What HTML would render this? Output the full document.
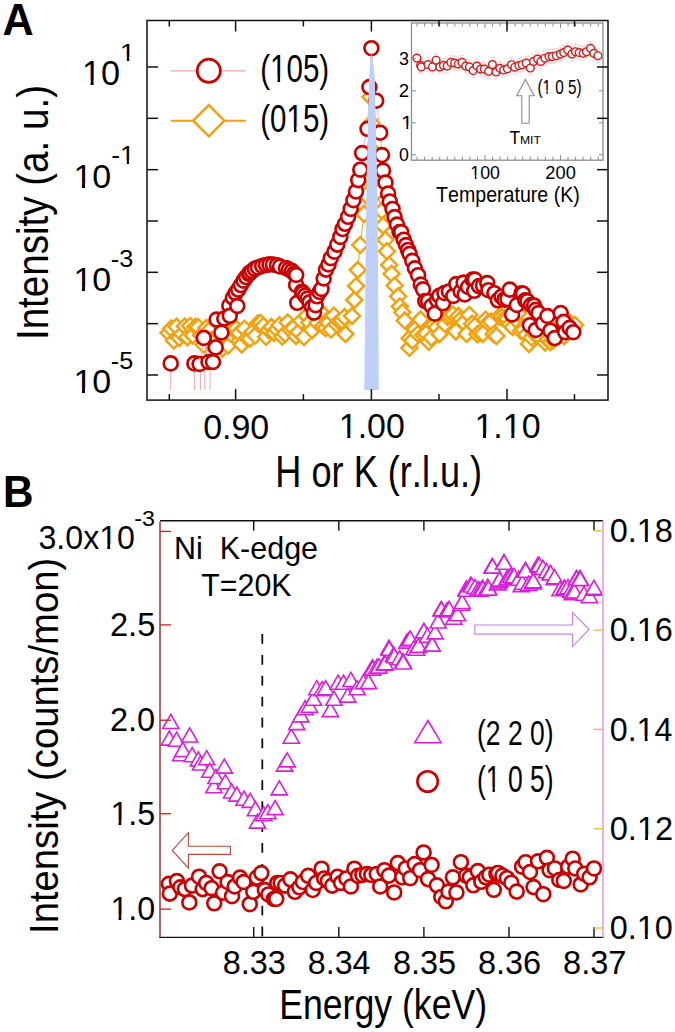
<!DOCTYPE html><html><head><meta charset="utf-8"><title>Figure</title><style>html,body{margin:0;padding:0;background:#fff;overflow:hidden}svg{display:block}</style></head><body><svg width="675" height="1032" viewBox="0 0 675 1032" font-family="Liberation Sans, sans-serif" style="font-kerning:none">
<rect width="675" height="1032" fill="#fff"/>
<line x1="170.70" y1="370.00" x2="170.70" y2="390.00" stroke="#f4a8a8" stroke-width="1"/><line x1="194.40" y1="370.00" x2="194.40" y2="390.00" stroke="#f4a8a8" stroke-width="1"/><line x1="200.40" y1="370.00" x2="200.40" y2="390.00" stroke="#f4a8a8" stroke-width="1"/><line x1="204.80" y1="370.00" x2="204.80" y2="390.00" stroke="#f4a8a8" stroke-width="1"/><line x1="210.00" y1="370.00" x2="210.00" y2="390.00" stroke="#f4a8a8" stroke-width="1"/>
<polyline points="168.5,332.8 171.2,328.6 173.9,340.6 176.6,326.7 179.3,337.9 182.1,333.8 184.8,326.4 187.5,337.2 190.2,325.9 192.9,335.4 195.6,326.7 198.3,327.2 201.0,335.2 203.7,344.8 206.4,328.0 209.2,330.4 211.9,340.1 214.6,347.7 217.3,338.9 220.0,334.5 222.7,348.4 225.4,326.1 228.1,345.6 230.8,333.8 233.5,329.8 236.3,328.7 239.0,332.8 241.7,344.5 244.4,328.7 247.1,337.9 249.8,338.7 252.5,331.8 255.2,335.6 257.9,323.4 260.6,322.9 263.4,325.9 266.1,336.8 268.8,330.2 271.5,327.0 274.2,333.0 276.9,329.3 279.6,325.2 282.3,336.6 285.0,333.8 287.7,322.4 290.4,329.8 293.2,328.1 295.9,336.0 298.6,332.0 301.3,320.9 304.0,337.1 306.7,315.9 309.4,322.6 312.1,330.2 314.8,315.2 317.5,322.8 320.3,311.5 323.0,326.1 325.7,328.0 328.4,322.9 331.1,329.6 333.8,315.7 336.5,324.3 339.2,321.4 341.9,320.6 344.6,317.1 345.4,334.0 352.0,316.0 354.3,300.0 356.1,286.0 357.8,270.0 360.2,245.0 364.0,214.0 366.0,195.0 370.5,97.0 371.5,123.0 371.5,178.0 372.0,150.0 377.0,192.0 381.8,211.0 383.0,225.5 385.4,239.8 386.9,251.3 389.2,264.9 391.6,273.8 394.6,285.6 398.1,296.3 399.9,306.4 402.3,312.3 404.7,320.6 409.4,347.8 409.7,338.2 412.4,340.7 415.1,329.4 417.8,333.9 420.5,319.5 423.2,334.8 425.9,333.5 428.7,341.8 431.4,337.7 434.1,324.8 436.8,327.3 439.5,334.0 442.2,313.5 444.9,324.1 447.6,317.0 450.3,315.8 453.0,314.4 455.8,331.4 458.5,316.1 461.2,318.9 463.9,322.4 466.6,333.9 469.3,314.9 472.0,323.8 474.7,326.2 477.4,334.2 480.1,332.7 482.9,333.7 485.6,319.7 488.3,323.0 491.0,321.6 493.7,334.2 496.4,336.0 499.1,316.6 501.8,317.2 504.5,318.6 507.2,318.6 510.0,324.6 512.7,327.1 515.4,319.3 518.1,313.1 520.8,331.1 523.5,329.9 526.2,334.6 528.9,343.9 531.6,337.6 534.3,333.4 537.1,335.8 539.8,337.2 542.5,322.3 545.2,342.6 547.9,339.7 550.6,342.0 553.3,340.1 556.0,330.4 558.7,330.6 561.4,323.5 564.2,336.2 566.9,322.5 569.6,322.6 572.3,326.0 575.0,324.9" fill="none" stroke="#f2a20f" stroke-width="1"/>
<g><path d="M160.5 332.8L168.5 324.8L176.5 332.8L168.5 340.8Z" fill="#fff" stroke="#f2a20f" stroke-width="2.5"/><path d="M163.2 328.6L171.2 320.6L179.2 328.6L171.2 336.6Z" fill="#fff" stroke="#f2a20f" stroke-width="2.5"/><path d="M165.9 340.6L173.9 332.6L181.9 340.6L173.9 348.6Z" fill="#fff" stroke="#f2a20f" stroke-width="2.5"/><path d="M168.6 326.7L176.6 318.7L184.6 326.7L176.6 334.7Z" fill="#fff" stroke="#f2a20f" stroke-width="2.5"/><path d="M171.3 337.9L179.3 329.9L187.3 337.9L179.3 345.9Z" fill="#fff" stroke="#f2a20f" stroke-width="2.5"/><path d="M174.1 333.8L182.1 325.8L190.1 333.8L182.1 341.8Z" fill="#fff" stroke="#f2a20f" stroke-width="2.5"/><path d="M176.8 326.4L184.8 318.4L192.8 326.4L184.8 334.4Z" fill="#fff" stroke="#f2a20f" stroke-width="2.5"/><path d="M179.5 337.2L187.5 329.2L195.5 337.2L187.5 345.2Z" fill="#fff" stroke="#f2a20f" stroke-width="2.5"/><path d="M182.2 325.9L190.2 317.9L198.2 325.9L190.2 333.9Z" fill="#fff" stroke="#f2a20f" stroke-width="2.5"/><path d="M184.9 335.4L192.9 327.4L200.9 335.4L192.9 343.4Z" fill="#fff" stroke="#f2a20f" stroke-width="2.5"/><path d="M187.6 326.7L195.6 318.7L203.6 326.7L195.6 334.7Z" fill="#fff" stroke="#f2a20f" stroke-width="2.5"/><path d="M190.3 327.2L198.3 319.2L206.3 327.2L198.3 335.2Z" fill="#fff" stroke="#f2a20f" stroke-width="2.5"/><path d="M193.0 335.2L201.0 327.2L209.0 335.2L201.0 343.2Z" fill="#fff" stroke="#f2a20f" stroke-width="2.5"/><path d="M195.7 344.8L203.7 336.8L211.7 344.8L203.7 352.8Z" fill="#fff" stroke="#f2a20f" stroke-width="2.5"/><path d="M198.4 328.0L206.4 320.0L214.4 328.0L206.4 336.0Z" fill="#fff" stroke="#f2a20f" stroke-width="2.5"/><path d="M201.2 330.4L209.2 322.4L217.2 330.4L209.2 338.4Z" fill="#fff" stroke="#f2a20f" stroke-width="2.5"/><path d="M203.9 340.1L211.9 332.1L219.9 340.1L211.9 348.1Z" fill="#fff" stroke="#f2a20f" stroke-width="2.5"/><path d="M206.6 347.7L214.6 339.7L222.6 347.7L214.6 355.7Z" fill="#fff" stroke="#f2a20f" stroke-width="2.5"/><path d="M209.3 338.9L217.3 330.9L225.3 338.9L217.3 346.9Z" fill="#fff" stroke="#f2a20f" stroke-width="2.5"/><path d="M212.0 334.5L220.0 326.5L228.0 334.5L220.0 342.5Z" fill="#fff" stroke="#f2a20f" stroke-width="2.5"/><path d="M214.7 348.4L222.7 340.4L230.7 348.4L222.7 356.4Z" fill="#fff" stroke="#f2a20f" stroke-width="2.5"/><path d="M217.4 326.1L225.4 318.1L233.4 326.1L225.4 334.1Z" fill="#fff" stroke="#f2a20f" stroke-width="2.5"/><path d="M220.1 345.6L228.1 337.6L236.1 345.6L228.1 353.6Z" fill="#fff" stroke="#f2a20f" stroke-width="2.5"/><path d="M222.8 333.8L230.8 325.8L238.8 333.8L230.8 341.8Z" fill="#fff" stroke="#f2a20f" stroke-width="2.5"/><path d="M225.5 329.8L233.5 321.8L241.5 329.8L233.5 337.8Z" fill="#fff" stroke="#f2a20f" stroke-width="2.5"/><path d="M228.3 328.7L236.3 320.7L244.3 328.7L236.3 336.7Z" fill="#fff" stroke="#f2a20f" stroke-width="2.5"/><path d="M231.0 332.8L239.0 324.8L247.0 332.8L239.0 340.8Z" fill="#fff" stroke="#f2a20f" stroke-width="2.5"/><path d="M233.7 344.5L241.7 336.5L249.7 344.5L241.7 352.5Z" fill="#fff" stroke="#f2a20f" stroke-width="2.5"/><path d="M236.4 328.7L244.4 320.7L252.4 328.7L244.4 336.7Z" fill="#fff" stroke="#f2a20f" stroke-width="2.5"/><path d="M239.1 337.9L247.1 329.9L255.1 337.9L247.1 345.9Z" fill="#fff" stroke="#f2a20f" stroke-width="2.5"/><path d="M241.8 338.7L249.8 330.7L257.8 338.7L249.8 346.7Z" fill="#fff" stroke="#f2a20f" stroke-width="2.5"/><path d="M244.5 331.8L252.5 323.8L260.5 331.8L252.5 339.8Z" fill="#fff" stroke="#f2a20f" stroke-width="2.5"/><path d="M247.2 335.6L255.2 327.6L263.2 335.6L255.2 343.6Z" fill="#fff" stroke="#f2a20f" stroke-width="2.5"/><path d="M249.9 323.4L257.9 315.4L265.9 323.4L257.9 331.4Z" fill="#fff" stroke="#f2a20f" stroke-width="2.5"/><path d="M252.6 322.9L260.6 314.9L268.6 322.9L260.6 330.9Z" fill="#fff" stroke="#f2a20f" stroke-width="2.5"/><path d="M255.4 325.9L263.4 317.9L271.4 325.9L263.4 333.9Z" fill="#fff" stroke="#f2a20f" stroke-width="2.5"/><path d="M258.1 336.8L266.1 328.8L274.1 336.8L266.1 344.8Z" fill="#fff" stroke="#f2a20f" stroke-width="2.5"/><path d="M260.8 330.2L268.8 322.2L276.8 330.2L268.8 338.2Z" fill="#fff" stroke="#f2a20f" stroke-width="2.5"/><path d="M263.5 327.0L271.5 319.0L279.5 327.0L271.5 335.0Z" fill="#fff" stroke="#f2a20f" stroke-width="2.5"/><path d="M266.2 333.0L274.2 325.0L282.2 333.0L274.2 341.0Z" fill="#fff" stroke="#f2a20f" stroke-width="2.5"/><path d="M268.9 329.3L276.9 321.3L284.9 329.3L276.9 337.3Z" fill="#fff" stroke="#f2a20f" stroke-width="2.5"/><path d="M271.6 325.2L279.6 317.2L287.6 325.2L279.6 333.2Z" fill="#fff" stroke="#f2a20f" stroke-width="2.5"/><path d="M274.3 336.6L282.3 328.6L290.3 336.6L282.3 344.6Z" fill="#fff" stroke="#f2a20f" stroke-width="2.5"/><path d="M277.0 333.8L285.0 325.8L293.0 333.8L285.0 341.8Z" fill="#fff" stroke="#f2a20f" stroke-width="2.5"/><path d="M279.7 322.4L287.7 314.4L295.7 322.4L287.7 330.4Z" fill="#fff" stroke="#f2a20f" stroke-width="2.5"/><path d="M282.4 329.8L290.4 321.8L298.4 329.8L290.4 337.8Z" fill="#fff" stroke="#f2a20f" stroke-width="2.5"/><path d="M285.2 328.1L293.2 320.1L301.2 328.1L293.2 336.1Z" fill="#fff" stroke="#f2a20f" stroke-width="2.5"/><path d="M287.9 336.0L295.9 328.0L303.9 336.0L295.9 344.0Z" fill="#fff" stroke="#f2a20f" stroke-width="2.5"/><path d="M290.6 332.0L298.6 324.0L306.6 332.0L298.6 340.0Z" fill="#fff" stroke="#f2a20f" stroke-width="2.5"/><path d="M293.3 320.9L301.3 312.9L309.3 320.9L301.3 328.9Z" fill="#fff" stroke="#f2a20f" stroke-width="2.5"/><path d="M296.0 337.1L304.0 329.1L312.0 337.1L304.0 345.1Z" fill="#fff" stroke="#f2a20f" stroke-width="2.5"/><path d="M298.7 315.9L306.7 307.9L314.7 315.9L306.7 323.9Z" fill="#fff" stroke="#f2a20f" stroke-width="2.5"/><path d="M301.4 322.6L309.4 314.6L317.4 322.6L309.4 330.6Z" fill="#fff" stroke="#f2a20f" stroke-width="2.5"/><path d="M304.1 330.2L312.1 322.2L320.1 330.2L312.1 338.2Z" fill="#fff" stroke="#f2a20f" stroke-width="2.5"/><path d="M306.8 315.2L314.8 307.2L322.8 315.2L314.8 323.2Z" fill="#fff" stroke="#f2a20f" stroke-width="2.5"/><path d="M309.5 322.8L317.5 314.8L325.5 322.8L317.5 330.8Z" fill="#fff" stroke="#f2a20f" stroke-width="2.5"/><path d="M312.3 311.5L320.3 303.5L328.3 311.5L320.3 319.5Z" fill="#fff" stroke="#f2a20f" stroke-width="2.5"/><path d="M315.0 326.1L323.0 318.1L331.0 326.1L323.0 334.1Z" fill="#fff" stroke="#f2a20f" stroke-width="2.5"/><path d="M317.7 328.0L325.7 320.0L333.7 328.0L325.7 336.0Z" fill="#fff" stroke="#f2a20f" stroke-width="2.5"/><path d="M320.4 322.9L328.4 314.9L336.4 322.9L328.4 330.9Z" fill="#fff" stroke="#f2a20f" stroke-width="2.5"/><path d="M323.1 329.6L331.1 321.6L339.1 329.6L331.1 337.6Z" fill="#fff" stroke="#f2a20f" stroke-width="2.5"/><path d="M325.8 315.7L333.8 307.7L341.8 315.7L333.8 323.7Z" fill="#fff" stroke="#f2a20f" stroke-width="2.5"/><path d="M328.5 324.3L336.5 316.3L344.5 324.3L336.5 332.3Z" fill="#fff" stroke="#f2a20f" stroke-width="2.5"/><path d="M331.2 321.4L339.2 313.4L347.2 321.4L339.2 329.4Z" fill="#fff" stroke="#f2a20f" stroke-width="2.5"/><path d="M333.9 320.6L341.9 312.6L349.9 320.6L341.9 328.6Z" fill="#fff" stroke="#f2a20f" stroke-width="2.5"/><path d="M336.6 317.1L344.6 309.1L352.6 317.1L344.6 325.1Z" fill="#fff" stroke="#f2a20f" stroke-width="2.5"/><path d="M337.4 334.0L345.4 326.0L353.4 334.0L345.4 342.0Z" fill="#fff" stroke="#f2a20f" stroke-width="2.5"/><path d="M344.0 316.0L352.0 308.0L360.0 316.0L352.0 324.0Z" fill="#fff" stroke="#f2a20f" stroke-width="2.5"/><path d="M346.3 300.0L354.3 292.0L362.3 300.0L354.3 308.0Z" fill="#fff" stroke="#f2a20f" stroke-width="2.5"/><path d="M348.1 286.0L356.1 278.0L364.1 286.0L356.1 294.0Z" fill="#fff" stroke="#f2a20f" stroke-width="2.5"/><path d="M349.8 270.0L357.8 262.0L365.8 270.0L357.8 278.0Z" fill="#fff" stroke="#f2a20f" stroke-width="2.5"/><path d="M352.2 245.0L360.2 237.0L368.2 245.0L360.2 253.0Z" fill="#fff" stroke="#f2a20f" stroke-width="2.5"/><path d="M356.0 214.0L364.0 206.0L372.0 214.0L364.0 222.0Z" fill="#fff" stroke="#f2a20f" stroke-width="2.5"/><path d="M358.0 195.0L366.0 187.0L374.0 195.0L366.0 203.0Z" fill="#fff" stroke="#f2a20f" stroke-width="2.5"/><path d="M362.5 97.0L370.5 89.0L378.5 97.0L370.5 105.0Z" fill="#fff" stroke="#f2a20f" stroke-width="2.5"/><path d="M363.5 123.0L371.5 115.0L379.5 123.0L371.5 131.0Z" fill="#fff" stroke="#f2a20f" stroke-width="2.5"/><path d="M363.5 178.0L371.5 170.0L379.5 178.0L371.5 186.0Z" fill="#fff" stroke="#f2a20f" stroke-width="2.5"/><path d="M364.0 150.0L372.0 142.0L380.0 150.0L372.0 158.0Z" fill="#fff" stroke="#f2a20f" stroke-width="2.5"/><path d="M369.0 192.0L377.0 184.0L385.0 192.0L377.0 200.0Z" fill="#fff" stroke="#f2a20f" stroke-width="2.5"/><path d="M373.8 211.0L381.8 203.0L389.8 211.0L381.8 219.0Z" fill="#fff" stroke="#f2a20f" stroke-width="2.5"/><path d="M375.0 225.5L383.0 217.5L391.0 225.5L383.0 233.5Z" fill="#fff" stroke="#f2a20f" stroke-width="2.5"/><path d="M377.4 239.8L385.4 231.8L393.4 239.8L385.4 247.8Z" fill="#fff" stroke="#f2a20f" stroke-width="2.5"/><path d="M378.9 251.3L386.9 243.3L394.9 251.3L386.9 259.3Z" fill="#fff" stroke="#f2a20f" stroke-width="2.5"/><path d="M381.2 264.9L389.2 256.9L397.2 264.9L389.2 272.9Z" fill="#fff" stroke="#f2a20f" stroke-width="2.5"/><path d="M383.6 273.8L391.6 265.8L399.6 273.8L391.6 281.8Z" fill="#fff" stroke="#f2a20f" stroke-width="2.5"/><path d="M386.6 285.6L394.6 277.6L402.6 285.6L394.6 293.6Z" fill="#fff" stroke="#f2a20f" stroke-width="2.5"/><path d="M390.1 296.3L398.1 288.3L406.1 296.3L398.1 304.3Z" fill="#fff" stroke="#f2a20f" stroke-width="2.5"/><path d="M391.9 306.4L399.9 298.4L407.9 306.4L399.9 314.4Z" fill="#fff" stroke="#f2a20f" stroke-width="2.5"/><path d="M394.3 312.3L402.3 304.3L410.3 312.3L402.3 320.3Z" fill="#fff" stroke="#f2a20f" stroke-width="2.5"/><path d="M396.7 320.6L404.7 312.6L412.7 320.6L404.7 328.6Z" fill="#fff" stroke="#f2a20f" stroke-width="2.5"/><path d="M401.4 347.8L409.4 339.8L417.4 347.8L409.4 355.8Z" fill="#fff" stroke="#f2a20f" stroke-width="2.5"/><path d="M401.7 338.2L409.7 330.2L417.7 338.2L409.7 346.2Z" fill="#fff" stroke="#f2a20f" stroke-width="2.5"/><path d="M404.4 340.7L412.4 332.7L420.4 340.7L412.4 348.7Z" fill="#fff" stroke="#f2a20f" stroke-width="2.5"/><path d="M407.1 329.4L415.1 321.4L423.1 329.4L415.1 337.4Z" fill="#fff" stroke="#f2a20f" stroke-width="2.5"/><path d="M409.8 333.9L417.8 325.9L425.8 333.9L417.8 341.9Z" fill="#fff" stroke="#f2a20f" stroke-width="2.5"/><path d="M412.5 319.5L420.5 311.5L428.5 319.5L420.5 327.5Z" fill="#fff" stroke="#f2a20f" stroke-width="2.5"/><path d="M415.2 334.8L423.2 326.8L431.2 334.8L423.2 342.8Z" fill="#fff" stroke="#f2a20f" stroke-width="2.5"/><path d="M417.9 333.5L425.9 325.5L433.9 333.5L425.9 341.5Z" fill="#fff" stroke="#f2a20f" stroke-width="2.5"/><path d="M420.7 341.8L428.7 333.8L436.7 341.8L428.7 349.8Z" fill="#fff" stroke="#f2a20f" stroke-width="2.5"/><path d="M423.4 337.7L431.4 329.7L439.4 337.7L431.4 345.7Z" fill="#fff" stroke="#f2a20f" stroke-width="2.5"/><path d="M426.1 324.8L434.1 316.8L442.1 324.8L434.1 332.8Z" fill="#fff" stroke="#f2a20f" stroke-width="2.5"/><path d="M428.8 327.3L436.8 319.3L444.8 327.3L436.8 335.3Z" fill="#fff" stroke="#f2a20f" stroke-width="2.5"/><path d="M431.5 334.0L439.5 326.0L447.5 334.0L439.5 342.0Z" fill="#fff" stroke="#f2a20f" stroke-width="2.5"/><path d="M434.2 313.5L442.2 305.5L450.2 313.5L442.2 321.5Z" fill="#fff" stroke="#f2a20f" stroke-width="2.5"/><path d="M436.9 324.1L444.9 316.1L452.9 324.1L444.9 332.1Z" fill="#fff" stroke="#f2a20f" stroke-width="2.5"/><path d="M439.6 317.0L447.6 309.0L455.6 317.0L447.6 325.0Z" fill="#fff" stroke="#f2a20f" stroke-width="2.5"/><path d="M442.3 315.8L450.3 307.8L458.3 315.8L450.3 323.8Z" fill="#fff" stroke="#f2a20f" stroke-width="2.5"/><path d="M445.0 314.4L453.0 306.4L461.0 314.4L453.0 322.4Z" fill="#fff" stroke="#f2a20f" stroke-width="2.5"/><path d="M447.8 331.4L455.8 323.4L463.8 331.4L455.8 339.4Z" fill="#fff" stroke="#f2a20f" stroke-width="2.5"/><path d="M450.5 316.1L458.5 308.1L466.5 316.1L458.5 324.1Z" fill="#fff" stroke="#f2a20f" stroke-width="2.5"/><path d="M453.2 318.9L461.2 310.9L469.2 318.9L461.2 326.9Z" fill="#fff" stroke="#f2a20f" stroke-width="2.5"/><path d="M455.9 322.4L463.9 314.4L471.9 322.4L463.9 330.4Z" fill="#fff" stroke="#f2a20f" stroke-width="2.5"/><path d="M458.6 333.9L466.6 325.9L474.6 333.9L466.6 341.9Z" fill="#fff" stroke="#f2a20f" stroke-width="2.5"/><path d="M461.3 314.9L469.3 306.9L477.3 314.9L469.3 322.9Z" fill="#fff" stroke="#f2a20f" stroke-width="2.5"/><path d="M464.0 323.8L472.0 315.8L480.0 323.8L472.0 331.8Z" fill="#fff" stroke="#f2a20f" stroke-width="2.5"/><path d="M466.7 326.2L474.7 318.2L482.7 326.2L474.7 334.2Z" fill="#fff" stroke="#f2a20f" stroke-width="2.5"/><path d="M469.4 334.2L477.4 326.2L485.4 334.2L477.4 342.2Z" fill="#fff" stroke="#f2a20f" stroke-width="2.5"/><path d="M472.1 332.7L480.1 324.7L488.1 332.7L480.1 340.7Z" fill="#fff" stroke="#f2a20f" stroke-width="2.5"/><path d="M474.9 333.7L482.9 325.7L490.9 333.7L482.9 341.7Z" fill="#fff" stroke="#f2a20f" stroke-width="2.5"/><path d="M477.6 319.7L485.6 311.7L493.6 319.7L485.6 327.7Z" fill="#fff" stroke="#f2a20f" stroke-width="2.5"/><path d="M480.3 323.0L488.3 315.0L496.3 323.0L488.3 331.0Z" fill="#fff" stroke="#f2a20f" stroke-width="2.5"/><path d="M483.0 321.6L491.0 313.6L499.0 321.6L491.0 329.6Z" fill="#fff" stroke="#f2a20f" stroke-width="2.5"/><path d="M485.7 334.2L493.7 326.2L501.7 334.2L493.7 342.2Z" fill="#fff" stroke="#f2a20f" stroke-width="2.5"/><path d="M488.4 336.0L496.4 328.0L504.4 336.0L496.4 344.0Z" fill="#fff" stroke="#f2a20f" stroke-width="2.5"/><path d="M491.1 316.6L499.1 308.6L507.1 316.6L499.1 324.6Z" fill="#fff" stroke="#f2a20f" stroke-width="2.5"/><path d="M493.8 317.2L501.8 309.2L509.8 317.2L501.8 325.2Z" fill="#fff" stroke="#f2a20f" stroke-width="2.5"/><path d="M496.5 318.6L504.5 310.6L512.5 318.6L504.5 326.6Z" fill="#fff" stroke="#f2a20f" stroke-width="2.5"/><path d="M499.2 318.6L507.2 310.6L515.2 318.6L507.2 326.6Z" fill="#fff" stroke="#f2a20f" stroke-width="2.5"/><path d="M502.0 324.6L510.0 316.6L518.0 324.6L510.0 332.6Z" fill="#fff" stroke="#f2a20f" stroke-width="2.5"/><path d="M504.7 327.1L512.7 319.1L520.7 327.1L512.7 335.1Z" fill="#fff" stroke="#f2a20f" stroke-width="2.5"/><path d="M507.4 319.3L515.4 311.3L523.4 319.3L515.4 327.3Z" fill="#fff" stroke="#f2a20f" stroke-width="2.5"/><path d="M510.1 313.1L518.1 305.1L526.1 313.1L518.1 321.1Z" fill="#fff" stroke="#f2a20f" stroke-width="2.5"/><path d="M512.8 331.1L520.8 323.1L528.8 331.1L520.8 339.1Z" fill="#fff" stroke="#f2a20f" stroke-width="2.5"/><path d="M515.5 329.9L523.5 321.9L531.5 329.9L523.5 337.9Z" fill="#fff" stroke="#f2a20f" stroke-width="2.5"/><path d="M518.2 334.6L526.2 326.6L534.2 334.6L526.2 342.6Z" fill="#fff" stroke="#f2a20f" stroke-width="2.5"/><path d="M520.9 343.9L528.9 335.9L536.9 343.9L528.9 351.9Z" fill="#fff" stroke="#f2a20f" stroke-width="2.5"/><path d="M523.6 337.6L531.6 329.6L539.6 337.6L531.6 345.6Z" fill="#fff" stroke="#f2a20f" stroke-width="2.5"/><path d="M526.3 333.4L534.3 325.4L542.3 333.4L534.3 341.4Z" fill="#fff" stroke="#f2a20f" stroke-width="2.5"/><path d="M529.1 335.8L537.1 327.8L545.1 335.8L537.1 343.8Z" fill="#fff" stroke="#f2a20f" stroke-width="2.5"/><path d="M531.8 337.2L539.8 329.2L547.8 337.2L539.8 345.2Z" fill="#fff" stroke="#f2a20f" stroke-width="2.5"/><path d="M534.5 322.3L542.5 314.3L550.5 322.3L542.5 330.3Z" fill="#fff" stroke="#f2a20f" stroke-width="2.5"/><path d="M537.2 342.6L545.2 334.6L553.2 342.6L545.2 350.6Z" fill="#fff" stroke="#f2a20f" stroke-width="2.5"/><path d="M539.9 339.7L547.9 331.7L555.9 339.7L547.9 347.7Z" fill="#fff" stroke="#f2a20f" stroke-width="2.5"/><path d="M542.6 342.0L550.6 334.0L558.6 342.0L550.6 350.0Z" fill="#fff" stroke="#f2a20f" stroke-width="2.5"/><path d="M545.3 340.1L553.3 332.1L561.3 340.1L553.3 348.1Z" fill="#fff" stroke="#f2a20f" stroke-width="2.5"/><path d="M548.0 330.4L556.0 322.4L564.0 330.4L556.0 338.4Z" fill="#fff" stroke="#f2a20f" stroke-width="2.5"/><path d="M550.7 330.6L558.7 322.6L566.7 330.6L558.7 338.6Z" fill="#fff" stroke="#f2a20f" stroke-width="2.5"/><path d="M553.4 323.5L561.4 315.5L569.4 323.5L561.4 331.5Z" fill="#fff" stroke="#f2a20f" stroke-width="2.5"/><path d="M556.2 336.2L564.2 328.2L572.2 336.2L564.2 344.2Z" fill="#fff" stroke="#f2a20f" stroke-width="2.5"/><path d="M558.9 322.5L566.9 314.5L574.9 322.5L566.9 330.5Z" fill="#fff" stroke="#f2a20f" stroke-width="2.5"/><path d="M561.6 322.6L569.6 314.6L577.6 322.6L569.6 330.6Z" fill="#fff" stroke="#f2a20f" stroke-width="2.5"/><path d="M564.3 326.0L572.3 318.0L580.3 326.0L572.3 334.0Z" fill="#fff" stroke="#f2a20f" stroke-width="2.5"/><path d="M567.0 324.9L575.0 316.9L583.0 324.9L575.0 332.9Z" fill="#fff" stroke="#f2a20f" stroke-width="2.5"/></g>
<polyline points="194.4,363.4 199.6,364.0 203.8,337.9 208.5,362.0 213.0,362.0 215.7,347.4 216.6,319.5 221.4,332.5 224.3,318.5 229.3,305.6 229.8,315.8 232.9,297.6 235.6,293.1 237.3,306.0 238.2,289.6 240.9,285.1 243.6,280.7 246.2,277.1 248.9,274.0 249.8,272.7 252.0,271.0 254.8,268.9 258.0,267.5 262.2,266.0 266.0,265.0 269.6,264.4 273.0,264.5 277.0,265.2 280.0,266.5 286.0,268.0 289.0,269.5 292.0,271.0 294.2,273.5 296.1,285.0 296.2,275.0 297.2,302.8 302.0,291.7 303.0,293.0 305.2,295.6 307.5,298.5 309.6,302.2 312.0,307.0 314.0,312.6 315.6,305.2 317.0,296.3 319.5,292.0 321.5,288.9 323.7,278.5 326.0,269.6 328.5,264.5 330.8,258.2 334.4,251.7 337.3,244.6 340.3,236.9 342.5,229.0 345.1,223.8 348.1,216.8 350.7,208.9 353.4,200.2 356.0,191.5 358.2,180.1 360.3,169.7 362.1,153.1 367.5,128.8 369.4,87.1 371.4,48.2 376.2,100.7 380.1,132.7 382.0,155.0 383.0,170.5 385.5,182.5 388.1,193.5 389.8,201.4 392.5,208.9 394.6,217.1 397.0,224.5 399.5,232.0 401.2,232.0 403.8,239.7 406.0,245.0 408.0,249.9 409.6,253.9 412.3,260.8 414.9,268.3 418.1,275.2 420.8,284.5 423.0,289.3 425.2,301.1 428.1,301.1 431.5,306.0 434.8,313.7 437.0,300.0 439.3,295.9 443.0,303.3 444.4,293.0 448.9,291.5 453.3,295.9 456.3,284.1 460.7,291.5 463.6,282.5 464.7,294.4 468.1,287.0 472.6,279.6 474.2,290.8 474.8,279.6 479.0,286.1 483.0,285.6 487.3,283.1 488.4,290.2 494.4,293.2 497.9,300.3 501.5,296.7 504.4,299.6 507.4,299.1 509.8,289.6 512.1,314.5 516.9,305.0 521.6,293.2 523.0,293.7 525.2,300.3 527.4,301.1 529.9,325.2 531.1,305.0 534.1,305.6 535.8,309.8 535.8,330.0 538.5,313.0 543.0,323.3 547.4,316.0 550.4,330.7 554.8,338.1 560.7,313.0 563.7,321.9 565.2,332.2 569.6,327.8 573.3,332.2" fill="none" stroke="#f4b0b0" stroke-width="1"/>
<g><circle cx="170.7" cy="363.4" r="6.95" fill="#fff" stroke="#c80000" stroke-width="2.65"/><circle cx="194.4" cy="363.4" r="6.95" fill="#fff" stroke="#c80000" stroke-width="2.65"/><circle cx="199.6" cy="364.0" r="6.95" fill="#fff" stroke="#c80000" stroke-width="2.65"/><circle cx="203.8" cy="337.9" r="6.95" fill="#fff" stroke="#c80000" stroke-width="2.65"/><circle cx="208.5" cy="362.0" r="6.95" fill="#fff" stroke="#c80000" stroke-width="2.65"/><circle cx="213.0" cy="362.0" r="6.95" fill="#fff" stroke="#c80000" stroke-width="2.65"/><circle cx="215.7" cy="347.4" r="6.95" fill="#fff" stroke="#c80000" stroke-width="2.65"/><circle cx="216.6" cy="319.5" r="6.95" fill="#fff" stroke="#c80000" stroke-width="2.65"/><circle cx="221.4" cy="332.5" r="6.95" fill="#fff" stroke="#c80000" stroke-width="2.65"/><circle cx="224.3" cy="318.5" r="6.95" fill="#fff" stroke="#c80000" stroke-width="2.65"/><circle cx="229.3" cy="305.6" r="6.95" fill="#fff" stroke="#c80000" stroke-width="2.65"/><circle cx="229.8" cy="315.8" r="6.95" fill="#fff" stroke="#c80000" stroke-width="2.65"/><circle cx="232.9" cy="297.6" r="6.95" fill="#fff" stroke="#c80000" stroke-width="2.65"/><circle cx="235.6" cy="293.1" r="6.95" fill="#fff" stroke="#c80000" stroke-width="2.65"/><circle cx="237.3" cy="306.0" r="6.95" fill="#fff" stroke="#c80000" stroke-width="2.65"/><circle cx="238.2" cy="289.6" r="6.95" fill="#fff" stroke="#c80000" stroke-width="2.65"/><circle cx="240.9" cy="285.1" r="6.95" fill="#fff" stroke="#c80000" stroke-width="2.65"/><circle cx="243.6" cy="280.7" r="6.95" fill="#fff" stroke="#c80000" stroke-width="2.65"/><circle cx="246.2" cy="277.1" r="6.95" fill="#fff" stroke="#c80000" stroke-width="2.65"/><circle cx="248.9" cy="274.0" r="6.95" fill="#fff" stroke="#c80000" stroke-width="2.65"/><circle cx="249.8" cy="272.7" r="6.95" fill="#fff" stroke="#c80000" stroke-width="2.65"/><circle cx="252.0" cy="271.0" r="6.95" fill="#fff" stroke="#c80000" stroke-width="2.65"/><circle cx="254.8" cy="268.9" r="6.95" fill="#fff" stroke="#c80000" stroke-width="2.65"/><circle cx="258.0" cy="267.5" r="6.95" fill="#fff" stroke="#c80000" stroke-width="2.65"/><circle cx="262.2" cy="266.0" r="6.95" fill="#fff" stroke="#c80000" stroke-width="2.65"/><circle cx="266.0" cy="265.0" r="6.95" fill="#fff" stroke="#c80000" stroke-width="2.65"/><circle cx="269.6" cy="264.4" r="6.95" fill="#fff" stroke="#c80000" stroke-width="2.65"/><circle cx="273.0" cy="264.5" r="6.95" fill="#fff" stroke="#c80000" stroke-width="2.65"/><circle cx="277.0" cy="265.2" r="6.95" fill="#fff" stroke="#c80000" stroke-width="2.65"/><circle cx="280.0" cy="266.5" r="6.95" fill="#fff" stroke="#c80000" stroke-width="2.65"/><circle cx="286.0" cy="268.0" r="6.95" fill="#fff" stroke="#c80000" stroke-width="2.65"/><circle cx="289.0" cy="269.5" r="6.95" fill="#fff" stroke="#c80000" stroke-width="2.65"/><circle cx="292.0" cy="271.0" r="6.95" fill="#fff" stroke="#c80000" stroke-width="2.65"/><circle cx="294.2" cy="273.5" r="6.95" fill="#fff" stroke="#c80000" stroke-width="2.65"/><circle cx="296.1" cy="285.0" r="6.95" fill="#fff" stroke="#c80000" stroke-width="2.65"/><circle cx="296.2" cy="275.0" r="6.95" fill="#fff" stroke="#c80000" stroke-width="2.65"/><circle cx="297.2" cy="302.8" r="6.95" fill="#fff" stroke="#c80000" stroke-width="2.65"/><circle cx="302.0" cy="291.7" r="6.95" fill="#fff" stroke="#c80000" stroke-width="2.65"/><circle cx="303.0" cy="293.0" r="6.95" fill="#fff" stroke="#c80000" stroke-width="2.65"/><circle cx="305.2" cy="295.6" r="6.95" fill="#fff" stroke="#c80000" stroke-width="2.65"/><circle cx="307.5" cy="298.5" r="6.95" fill="#fff" stroke="#c80000" stroke-width="2.65"/><circle cx="309.6" cy="302.2" r="6.95" fill="#fff" stroke="#c80000" stroke-width="2.65"/><circle cx="312.0" cy="307.0" r="6.95" fill="#fff" stroke="#c80000" stroke-width="2.65"/><circle cx="314.0" cy="312.6" r="6.95" fill="#fff" stroke="#c80000" stroke-width="2.65"/><circle cx="315.6" cy="305.2" r="6.95" fill="#fff" stroke="#c80000" stroke-width="2.65"/><circle cx="317.0" cy="296.3" r="6.95" fill="#fff" stroke="#c80000" stroke-width="2.65"/><circle cx="319.5" cy="292.0" r="6.95" fill="#fff" stroke="#c80000" stroke-width="2.65"/><circle cx="321.5" cy="288.9" r="6.95" fill="#fff" stroke="#c80000" stroke-width="2.65"/><circle cx="323.7" cy="278.5" r="6.95" fill="#fff" stroke="#c80000" stroke-width="2.65"/><circle cx="326.0" cy="269.6" r="6.95" fill="#fff" stroke="#c80000" stroke-width="2.65"/><circle cx="328.5" cy="264.5" r="6.95" fill="#fff" stroke="#c80000" stroke-width="2.65"/><circle cx="330.8" cy="258.2" r="6.95" fill="#fff" stroke="#c80000" stroke-width="2.65"/><circle cx="334.4" cy="251.7" r="6.95" fill="#fff" stroke="#c80000" stroke-width="2.65"/><circle cx="337.3" cy="244.6" r="6.95" fill="#fff" stroke="#c80000" stroke-width="2.65"/><circle cx="340.3" cy="236.9" r="6.95" fill="#fff" stroke="#c80000" stroke-width="2.65"/><circle cx="342.5" cy="229.0" r="6.95" fill="#fff" stroke="#c80000" stroke-width="2.65"/><circle cx="345.1" cy="223.8" r="6.95" fill="#fff" stroke="#c80000" stroke-width="2.65"/><circle cx="348.1" cy="216.8" r="6.95" fill="#fff" stroke="#c80000" stroke-width="2.65"/><circle cx="350.7" cy="208.9" r="6.95" fill="#fff" stroke="#c80000" stroke-width="2.65"/><circle cx="353.4" cy="200.2" r="6.95" fill="#fff" stroke="#c80000" stroke-width="2.65"/><circle cx="356.0" cy="191.5" r="6.95" fill="#fff" stroke="#c80000" stroke-width="2.65"/><circle cx="358.2" cy="180.1" r="6.95" fill="#fff" stroke="#c80000" stroke-width="2.65"/><circle cx="360.3" cy="169.7" r="6.95" fill="#fff" stroke="#c80000" stroke-width="2.65"/><circle cx="362.1" cy="153.1" r="6.95" fill="#fff" stroke="#c80000" stroke-width="2.65"/><circle cx="367.5" cy="128.8" r="6.95" fill="#fff" stroke="#c80000" stroke-width="2.65"/><circle cx="369.4" cy="87.1" r="6.95" fill="#fff" stroke="#c80000" stroke-width="2.65"/><circle cx="371.4" cy="48.2" r="6.95" fill="#fff" stroke="#c80000" stroke-width="2.65"/><circle cx="376.2" cy="100.7" r="6.95" fill="#fff" stroke="#c80000" stroke-width="2.65"/><circle cx="380.1" cy="132.7" r="6.95" fill="#fff" stroke="#c80000" stroke-width="2.65"/><circle cx="382.0" cy="155.0" r="6.95" fill="#fff" stroke="#c80000" stroke-width="2.65"/><circle cx="383.0" cy="170.5" r="6.95" fill="#fff" stroke="#c80000" stroke-width="2.65"/><circle cx="385.5" cy="182.5" r="6.95" fill="#fff" stroke="#c80000" stroke-width="2.65"/><circle cx="388.1" cy="193.5" r="6.95" fill="#fff" stroke="#c80000" stroke-width="2.65"/><circle cx="389.8" cy="201.4" r="6.95" fill="#fff" stroke="#c80000" stroke-width="2.65"/><circle cx="392.5" cy="208.9" r="6.95" fill="#fff" stroke="#c80000" stroke-width="2.65"/><circle cx="394.6" cy="217.1" r="6.95" fill="#fff" stroke="#c80000" stroke-width="2.65"/><circle cx="397.0" cy="224.5" r="6.95" fill="#fff" stroke="#c80000" stroke-width="2.65"/><circle cx="399.5" cy="232.0" r="6.95" fill="#fff" stroke="#c80000" stroke-width="2.65"/><circle cx="401.2" cy="232.0" r="6.95" fill="#fff" stroke="#c80000" stroke-width="2.65"/><circle cx="403.8" cy="239.7" r="6.95" fill="#fff" stroke="#c80000" stroke-width="2.65"/><circle cx="406.0" cy="245.0" r="6.95" fill="#fff" stroke="#c80000" stroke-width="2.65"/><circle cx="408.0" cy="249.9" r="6.95" fill="#fff" stroke="#c80000" stroke-width="2.65"/><circle cx="409.6" cy="253.9" r="6.95" fill="#fff" stroke="#c80000" stroke-width="2.65"/><circle cx="412.3" cy="260.8" r="6.95" fill="#fff" stroke="#c80000" stroke-width="2.65"/><circle cx="414.9" cy="268.3" r="6.95" fill="#fff" stroke="#c80000" stroke-width="2.65"/><circle cx="418.1" cy="275.2" r="6.95" fill="#fff" stroke="#c80000" stroke-width="2.65"/><circle cx="420.8" cy="284.5" r="6.95" fill="#fff" stroke="#c80000" stroke-width="2.65"/><circle cx="423.0" cy="289.3" r="6.95" fill="#fff" stroke="#c80000" stroke-width="2.65"/><circle cx="425.2" cy="301.1" r="6.95" fill="#fff" stroke="#c80000" stroke-width="2.65"/><circle cx="428.1" cy="301.1" r="6.95" fill="#fff" stroke="#c80000" stroke-width="2.65"/><circle cx="431.5" cy="306.0" r="6.95" fill="#fff" stroke="#c80000" stroke-width="2.65"/><circle cx="434.8" cy="313.7" r="6.95" fill="#fff" stroke="#c80000" stroke-width="2.65"/><circle cx="437.0" cy="300.0" r="6.95" fill="#fff" stroke="#c80000" stroke-width="2.65"/><circle cx="439.3" cy="295.9" r="6.95" fill="#fff" stroke="#c80000" stroke-width="2.65"/><circle cx="443.0" cy="303.3" r="6.95" fill="#fff" stroke="#c80000" stroke-width="2.65"/><circle cx="444.4" cy="293.0" r="6.95" fill="#fff" stroke="#c80000" stroke-width="2.65"/><circle cx="448.9" cy="291.5" r="6.95" fill="#fff" stroke="#c80000" stroke-width="2.65"/><circle cx="453.3" cy="295.9" r="6.95" fill="#fff" stroke="#c80000" stroke-width="2.65"/><circle cx="456.3" cy="284.1" r="6.95" fill="#fff" stroke="#c80000" stroke-width="2.65"/><circle cx="460.7" cy="291.5" r="6.95" fill="#fff" stroke="#c80000" stroke-width="2.65"/><circle cx="463.6" cy="282.5" r="6.95" fill="#fff" stroke="#c80000" stroke-width="2.65"/><circle cx="464.7" cy="294.4" r="6.95" fill="#fff" stroke="#c80000" stroke-width="2.65"/><circle cx="468.1" cy="287.0" r="6.95" fill="#fff" stroke="#c80000" stroke-width="2.65"/><circle cx="472.6" cy="279.6" r="6.95" fill="#fff" stroke="#c80000" stroke-width="2.65"/><circle cx="474.2" cy="290.8" r="6.95" fill="#fff" stroke="#c80000" stroke-width="2.65"/><circle cx="474.8" cy="279.6" r="6.95" fill="#fff" stroke="#c80000" stroke-width="2.65"/><circle cx="479.0" cy="286.1" r="6.95" fill="#fff" stroke="#c80000" stroke-width="2.65"/><circle cx="483.0" cy="285.6" r="6.95" fill="#fff" stroke="#c80000" stroke-width="2.65"/><circle cx="487.3" cy="283.1" r="6.95" fill="#fff" stroke="#c80000" stroke-width="2.65"/><circle cx="488.4" cy="290.2" r="6.95" fill="#fff" stroke="#c80000" stroke-width="2.65"/><circle cx="494.4" cy="293.2" r="6.95" fill="#fff" stroke="#c80000" stroke-width="2.65"/><circle cx="497.9" cy="300.3" r="6.95" fill="#fff" stroke="#c80000" stroke-width="2.65"/><circle cx="501.5" cy="296.7" r="6.95" fill="#fff" stroke="#c80000" stroke-width="2.65"/><circle cx="504.4" cy="299.6" r="6.95" fill="#fff" stroke="#c80000" stroke-width="2.65"/><circle cx="507.4" cy="299.1" r="6.95" fill="#fff" stroke="#c80000" stroke-width="2.65"/><circle cx="509.8" cy="289.6" r="6.95" fill="#fff" stroke="#c80000" stroke-width="2.65"/><circle cx="512.1" cy="314.5" r="6.95" fill="#fff" stroke="#c80000" stroke-width="2.65"/><circle cx="516.9" cy="305.0" r="6.95" fill="#fff" stroke="#c80000" stroke-width="2.65"/><circle cx="521.6" cy="293.2" r="6.95" fill="#fff" stroke="#c80000" stroke-width="2.65"/><circle cx="523.0" cy="293.7" r="6.95" fill="#fff" stroke="#c80000" stroke-width="2.65"/><circle cx="525.2" cy="300.3" r="6.95" fill="#fff" stroke="#c80000" stroke-width="2.65"/><circle cx="527.4" cy="301.1" r="6.95" fill="#fff" stroke="#c80000" stroke-width="2.65"/><circle cx="529.9" cy="325.2" r="6.95" fill="#fff" stroke="#c80000" stroke-width="2.65"/><circle cx="531.1" cy="305.0" r="6.95" fill="#fff" stroke="#c80000" stroke-width="2.65"/><circle cx="534.1" cy="305.6" r="6.95" fill="#fff" stroke="#c80000" stroke-width="2.65"/><circle cx="535.8" cy="309.8" r="6.95" fill="#fff" stroke="#c80000" stroke-width="2.65"/><circle cx="535.8" cy="330.0" r="6.95" fill="#fff" stroke="#c80000" stroke-width="2.65"/><circle cx="538.5" cy="313.0" r="6.95" fill="#fff" stroke="#c80000" stroke-width="2.65"/><circle cx="543.0" cy="323.3" r="6.95" fill="#fff" stroke="#c80000" stroke-width="2.65"/><circle cx="547.4" cy="316.0" r="6.95" fill="#fff" stroke="#c80000" stroke-width="2.65"/><circle cx="550.4" cy="330.7" r="6.95" fill="#fff" stroke="#c80000" stroke-width="2.65"/><circle cx="554.8" cy="338.1" r="6.95" fill="#fff" stroke="#c80000" stroke-width="2.65"/><circle cx="560.7" cy="313.0" r="6.95" fill="#fff" stroke="#c80000" stroke-width="2.65"/><circle cx="563.7" cy="321.9" r="6.95" fill="#fff" stroke="#c80000" stroke-width="2.65"/><circle cx="565.2" cy="332.2" r="6.95" fill="#fff" stroke="#c80000" stroke-width="2.65"/><circle cx="569.6" cy="327.8" r="6.95" fill="#fff" stroke="#c80000" stroke-width="2.65"/><circle cx="573.3" cy="332.2" r="6.95" fill="#fff" stroke="#c80000" stroke-width="2.65"/></g>
<path d="M371.3 50 L369 80 L366.2 200 L364.3 390 L378.8 390 L377.6 200 L374.8 80 Z" fill="#bfd0f8"/>
<line x1="170.70" y1="70.80" x2="245.90" y2="70.80" stroke="#f4a8a8" stroke-width="1.3"/>
<circle cx="208.8" cy="70.8" r="11.6" fill="#fff" stroke="#c80000" stroke-width="2.7"/>
<line x1="170.70" y1="120.70" x2="245.90" y2="120.70" stroke="#f2a20f" stroke-width="2"/>
<path d="M193.2 120.7L208.8 105.1L224.4 120.7L208.8 136.3Z" fill="#fff" stroke="#f2a20f" stroke-width="2.5"/>
<rect x="411.5" y="23" width="191.5" height="137.2" fill="#fff"/>
<g><path d="M416.9 51V65M414.4 51h5M414.4 65h5" stroke="#f8d4d4" stroke-width="1" fill="none"/><path d="M420.6 58.400000000000006V72.4M418.1 58.400000000000006h5M418.1 72.4h5" stroke="#f8d4d4" stroke-width="1" fill="none"/><path d="M421.3 59.900000000000006V73.9M418.8 59.900000000000006h5M418.8 73.9h5" stroke="#f8d4d4" stroke-width="1" fill="none"/><path d="M428 57.599999999999994V71.6M425.5 57.599999999999994h5M425.5 71.6h5" stroke="#f8d4d4" stroke-width="1" fill="none"/><path d="M432.4 59.900000000000006V73.9M429.9 59.900000000000006h5M429.9 73.9h5" stroke="#f8d4d4" stroke-width="1" fill="none"/><path d="M436.1 53.2V67.2M433.6 53.2h5M433.6 67.2h5" stroke="#f8d4d4" stroke-width="1" fill="none"/><path d="M439.8 59.900000000000006V73.9M437.3 59.900000000000006h5M437.3 73.9h5" stroke="#f8d4d4" stroke-width="1" fill="none"/><path d="M443.5 58.400000000000006V72.4M441.0 58.400000000000006h5M441.0 72.4h5" stroke="#f8d4d4" stroke-width="1" fill="none"/><path d="M447.2 59.099999999999994V73.1M444.7 59.099999999999994h5M444.7 73.1h5" stroke="#f8d4d4" stroke-width="1" fill="none"/><path d="M450.9 55.4V69.4M448.4 55.4h5M448.4 69.4h5" stroke="#f8d4d4" stroke-width="1" fill="none"/><path d="M454.6 56.1V70.1M452.1 56.1h5M452.1 70.1h5" stroke="#f8d4d4" stroke-width="1" fill="none"/><path d="M458.3 56.9V70.9M455.8 56.9h5M455.8 70.9h5" stroke="#f8d4d4" stroke-width="1" fill="none"/><path d="M462 55.4V69.4M459.5 55.4h5M459.5 69.4h5" stroke="#f8d4d4" stroke-width="1" fill="none"/><path d="M465.7 59.099999999999994V73.1M463.2 59.099999999999994h5M463.2 73.1h5" stroke="#f8d4d4" stroke-width="1" fill="none"/><path d="M469.4 59.900000000000006V73.9M466.9 59.900000000000006h5M466.9 73.9h5" stroke="#f8d4d4" stroke-width="1" fill="none"/><path d="M473.1 63.599999999999994V77.6M470.6 63.599999999999994h5M470.6 77.6h5" stroke="#f8d4d4" stroke-width="1" fill="none"/><path d="M476.9 59.099999999999994V73.1M474.4 59.099999999999994h5M474.4 73.1h5" stroke="#f8d4d4" stroke-width="1" fill="none"/><path d="M480.6 62.099999999999994V76.1M478.1 62.099999999999994h5M478.1 76.1h5" stroke="#f8d4d4" stroke-width="1" fill="none"/><path d="M484.3 62.099999999999994V76.1M481.8 62.099999999999994h5M481.8 76.1h5" stroke="#f8d4d4" stroke-width="1" fill="none"/><path d="M488.7 64.3V78.3M486.2 64.3h5M486.2 78.3h5" stroke="#f8d4d4" stroke-width="1" fill="none"/><path d="M492.4 57.599999999999994V71.6M489.9 57.599999999999994h5M489.9 71.6h5" stroke="#f8d4d4" stroke-width="1" fill="none"/><path d="M496.1 65V79M493.6 65h5M493.6 79h5" stroke="#f8d4d4" stroke-width="1" fill="none"/><path d="M499.8 61.3V75.3M497.3 61.3h5M497.3 75.3h5" stroke="#f8d4d4" stroke-width="1" fill="none"/><path d="M503.6 63V77M501.1 63h5M501.1 77h5" stroke="#f8d4d4" stroke-width="1" fill="none"/><path d="M507.4 61.8V75.8M504.9 61.8h5M504.9 75.8h5" stroke="#f8d4d4" stroke-width="1" fill="none"/><path d="M511.5 57.7V71.7M509.0 57.7h5M509.0 71.7h5" stroke="#f8d4d4" stroke-width="1" fill="none"/><path d="M514.8 60.2V74.2M512.3 60.2h5M512.3 74.2h5" stroke="#f8d4d4" stroke-width="1" fill="none"/><path d="M518.9 58.5V72.5M516.4 58.5h5M516.4 72.5h5" stroke="#f8d4d4" stroke-width="1" fill="none"/><path d="M522.1 57.7V71.7M519.6 57.7h5M519.6 71.7h5" stroke="#f8d4d4" stroke-width="1" fill="none"/><path d="M526.2 56.1V70.1M523.7 56.1h5M523.7 70.1h5" stroke="#f8d4d4" stroke-width="1" fill="none"/><path d="M530.3 61V75M527.8 61h5M527.8 75h5" stroke="#f8d4d4" stroke-width="1" fill="none"/><path d="M533.5 54.4V68.4M531.0 54.4h5M531.0 68.4h5" stroke="#f8d4d4" stroke-width="1" fill="none"/><path d="M537.6 52V66M535.1 52h5M535.1 66h5" stroke="#f8d4d4" stroke-width="1" fill="none"/><path d="M540.9 54.4V68.4M538.4 54.4h5M538.4 68.4h5" stroke="#f8d4d4" stroke-width="1" fill="none"/><path d="M544.9 51.2V65.2M542.4 51.2h5M542.4 65.2h5" stroke="#f8d4d4" stroke-width="1" fill="none"/><path d="M549 49.6V63.6M546.5 49.6h5M546.5 63.6h5" stroke="#f8d4d4" stroke-width="1" fill="none"/><path d="M552.3 49.6V63.6M549.8 49.6h5M549.8 63.6h5" stroke="#f8d4d4" stroke-width="1" fill="none"/><path d="M556.3 48.7V62.7M553.8 48.7h5M553.8 62.7h5" stroke="#f8d4d4" stroke-width="1" fill="none"/><path d="M560.4 47.1V61.1M557.9 47.1h5M557.9 61.1h5" stroke="#f8d4d4" stroke-width="1" fill="none"/><path d="M563.7 45.5V59.5M561.2 45.5h5M561.2 59.5h5" stroke="#f8d4d4" stroke-width="1" fill="none"/><path d="M567.7 43V57M565.2 43h5M565.2 57h5" stroke="#f8d4d4" stroke-width="1" fill="none"/><path d="M571.8 47.1V61.1M569.3 47.1h5M569.3 61.1h5" stroke="#f8d4d4" stroke-width="1" fill="none"/><path d="M575.5 44.7V58.7M573.0 44.7h5M573.0 58.7h5" stroke="#f8d4d4" stroke-width="1" fill="none"/><path d="M579.2 45.5V59.5M576.7 45.5h5M576.7 59.5h5" stroke="#f8d4d4" stroke-width="1" fill="none"/><path d="M583.2 46.3V60.3M580.7 46.3h5M580.7 60.3h5" stroke="#f8d4d4" stroke-width="1" fill="none"/><path d="M586.5 44.7V58.7M584.0 44.7h5M584.0 58.7h5" stroke="#f8d4d4" stroke-width="1" fill="none"/><path d="M590.6 41.4V55.4M588.1 41.4h5M588.1 55.4h5" stroke="#f8d4d4" stroke-width="1" fill="none"/><path d="M593.8 46.3V60.3M591.3 46.3h5M591.3 60.3h5" stroke="#f8d4d4" stroke-width="1" fill="none"/><path d="M597.9 48.7V62.7M595.4 48.7h5M595.4 62.7h5" stroke="#f8d4d4" stroke-width="1" fill="none"/></g>
<g><circle cx="416.9" cy="58.0" r="3.85" fill="#fff" stroke="#cc2222" stroke-width="1.45"/><circle cx="420.6" cy="65.4" r="3.85" fill="#fff" stroke="#cc2222" stroke-width="1.45"/><circle cx="421.3" cy="66.9" r="3.85" fill="#fff" stroke="#cc2222" stroke-width="1.45"/><circle cx="428.0" cy="64.6" r="3.85" fill="#fff" stroke="#cc2222" stroke-width="1.45"/><circle cx="432.4" cy="66.9" r="3.85" fill="#fff" stroke="#cc2222" stroke-width="1.45"/><circle cx="436.1" cy="60.2" r="3.85" fill="#fff" stroke="#cc2222" stroke-width="1.45"/><circle cx="439.8" cy="66.9" r="3.85" fill="#fff" stroke="#cc2222" stroke-width="1.45"/><circle cx="443.5" cy="65.4" r="3.85" fill="#fff" stroke="#cc2222" stroke-width="1.45"/><circle cx="447.2" cy="66.1" r="3.85" fill="#fff" stroke="#cc2222" stroke-width="1.45"/><circle cx="450.9" cy="62.4" r="3.85" fill="#fff" stroke="#cc2222" stroke-width="1.45"/><circle cx="454.6" cy="63.1" r="3.85" fill="#fff" stroke="#cc2222" stroke-width="1.45"/><circle cx="458.3" cy="63.9" r="3.85" fill="#fff" stroke="#cc2222" stroke-width="1.45"/><circle cx="462.0" cy="62.4" r="3.85" fill="#fff" stroke="#cc2222" stroke-width="1.45"/><circle cx="465.7" cy="66.1" r="3.85" fill="#fff" stroke="#cc2222" stroke-width="1.45"/><circle cx="469.4" cy="66.9" r="3.85" fill="#fff" stroke="#cc2222" stroke-width="1.45"/><circle cx="473.1" cy="70.6" r="3.85" fill="#fff" stroke="#cc2222" stroke-width="1.45"/><circle cx="476.9" cy="66.1" r="3.85" fill="#fff" stroke="#cc2222" stroke-width="1.45"/><circle cx="480.6" cy="69.1" r="3.85" fill="#fff" stroke="#cc2222" stroke-width="1.45"/><circle cx="484.3" cy="69.1" r="3.85" fill="#fff" stroke="#cc2222" stroke-width="1.45"/><circle cx="488.7" cy="71.3" r="3.85" fill="#fff" stroke="#cc2222" stroke-width="1.45"/><circle cx="492.4" cy="64.6" r="3.85" fill="#fff" stroke="#cc2222" stroke-width="1.45"/><circle cx="496.1" cy="72.0" r="3.85" fill="#fff" stroke="#cc2222" stroke-width="1.45"/><circle cx="499.8" cy="68.3" r="3.85" fill="#fff" stroke="#cc2222" stroke-width="1.45"/><circle cx="503.6" cy="70.0" r="3.85" fill="#fff" stroke="#cc2222" stroke-width="1.45"/><circle cx="507.4" cy="68.8" r="3.85" fill="#fff" stroke="#cc2222" stroke-width="1.45"/><circle cx="511.5" cy="64.7" r="3.85" fill="#fff" stroke="#cc2222" stroke-width="1.45"/><circle cx="514.8" cy="67.2" r="3.85" fill="#fff" stroke="#cc2222" stroke-width="1.45"/><circle cx="518.9" cy="65.5" r="3.85" fill="#fff" stroke="#cc2222" stroke-width="1.45"/><circle cx="522.1" cy="64.7" r="3.85" fill="#fff" stroke="#cc2222" stroke-width="1.45"/><circle cx="526.2" cy="63.1" r="3.85" fill="#fff" stroke="#cc2222" stroke-width="1.45"/><circle cx="530.3" cy="68.0" r="3.85" fill="#fff" stroke="#cc2222" stroke-width="1.45"/><circle cx="533.5" cy="61.4" r="3.85" fill="#fff" stroke="#cc2222" stroke-width="1.45"/><circle cx="537.6" cy="59.0" r="3.85" fill="#fff" stroke="#cc2222" stroke-width="1.45"/><circle cx="540.9" cy="61.4" r="3.85" fill="#fff" stroke="#cc2222" stroke-width="1.45"/><circle cx="544.9" cy="58.2" r="3.85" fill="#fff" stroke="#cc2222" stroke-width="1.45"/><circle cx="549.0" cy="56.6" r="3.85" fill="#fff" stroke="#cc2222" stroke-width="1.45"/><circle cx="552.3" cy="56.6" r="3.85" fill="#fff" stroke="#cc2222" stroke-width="1.45"/><circle cx="556.3" cy="55.7" r="3.85" fill="#fff" stroke="#cc2222" stroke-width="1.45"/><circle cx="560.4" cy="54.1" r="3.85" fill="#fff" stroke="#cc2222" stroke-width="1.45"/><circle cx="563.7" cy="52.5" r="3.85" fill="#fff" stroke="#cc2222" stroke-width="1.45"/><circle cx="567.7" cy="50.0" r="3.85" fill="#fff" stroke="#cc2222" stroke-width="1.45"/><circle cx="571.8" cy="54.1" r="3.85" fill="#fff" stroke="#cc2222" stroke-width="1.45"/><circle cx="575.5" cy="51.7" r="3.85" fill="#fff" stroke="#cc2222" stroke-width="1.45"/><circle cx="579.2" cy="52.5" r="3.85" fill="#fff" stroke="#cc2222" stroke-width="1.45"/><circle cx="583.2" cy="53.3" r="3.85" fill="#fff" stroke="#cc2222" stroke-width="1.45"/><circle cx="586.5" cy="51.7" r="3.85" fill="#fff" stroke="#cc2222" stroke-width="1.45"/><circle cx="590.6" cy="48.4" r="3.85" fill="#fff" stroke="#cc2222" stroke-width="1.45"/><circle cx="593.8" cy="53.3" r="3.85" fill="#fff" stroke="#cc2222" stroke-width="1.45"/><circle cx="597.9" cy="55.7" r="3.85" fill="#fff" stroke="#cc2222" stroke-width="1.45"/></g>
<path d="M525.4 79.4 L534.3 95.7 L529.2 95.7 L529.2 123.3 L521.8 123.3 L521.8 95.7 L516.7 95.7 Z" fill="#fff" stroke="#8a8a8a" stroke-width="1.1"/>
<line x1="262.30" y1="634.00" x2="262.30" y2="937.40" stroke="#111" stroke-width="1.8" stroke-dasharray="9.8 11.1"/>
<g><path d="M169.3 731.0L177.4 745.1L161.2 745.1Z" fill="#fff" stroke="#d820dc" stroke-width="1.6"/><path d="M170.8 714.4L178.9 728.5L162.7 728.5Z" fill="#fff" stroke="#d820dc" stroke-width="1.6"/><path d="M176.6 732.1L184.7 746.2L168.5 746.2Z" fill="#fff" stroke="#d820dc" stroke-width="1.6"/><path d="M180.7 746.6L188.8 760.7L172.6 760.7Z" fill="#fff" stroke="#d820dc" stroke-width="1.6"/><path d="M182.8 742.4L190.9 756.5L174.7 756.5Z" fill="#fff" stroke="#d820dc" stroke-width="1.6"/><path d="M189.7 727.9L197.8 742.0L181.6 742.0Z" fill="#fff" stroke="#d820dc" stroke-width="1.6"/><path d="M192.2 747.6L200.3 761.7L184.1 761.7Z" fill="#fff" stroke="#d820dc" stroke-width="1.6"/><path d="M198.4 751.8L206.5 765.9L190.3 765.9Z" fill="#fff" stroke="#d820dc" stroke-width="1.6"/><path d="M200.5 755.9L208.6 770.0L192.4 770.0Z" fill="#fff" stroke="#d820dc" stroke-width="1.6"/><path d="M206.7 750.7L214.8 764.8L198.6 764.8Z" fill="#fff" stroke="#d820dc" stroke-width="1.6"/><path d="M209.8 763.2L217.9 777.3L201.7 777.3Z" fill="#fff" stroke="#d820dc" stroke-width="1.6"/><path d="M213.9 778.7L222.0 792.8L205.8 792.8Z" fill="#fff" stroke="#d820dc" stroke-width="1.6"/><path d="M216.0 769.4L224.1 783.5L207.9 783.5Z" fill="#fff" stroke="#d820dc" stroke-width="1.6"/><path d="M224.3 759.0L232.4 773.1L216.2 773.1Z" fill="#fff" stroke="#d820dc" stroke-width="1.6"/><path d="M225.4 774.6L233.5 788.7L217.3 788.7Z" fill="#fff" stroke="#d820dc" stroke-width="1.6"/><path d="M231.6 783.9L239.7 798.0L223.5 798.0Z" fill="#fff" stroke="#d820dc" stroke-width="1.6"/><path d="M236.8 787.0L244.9 801.1L228.7 801.1Z" fill="#fff" stroke="#d820dc" stroke-width="1.6"/><path d="M244.0 791.2L252.1 805.3L235.9 805.3Z" fill="#fff" stroke="#d820dc" stroke-width="1.6"/><path d="M250.2 793.3L258.3 807.4L242.1 807.4Z" fill="#fff" stroke="#d820dc" stroke-width="1.6"/><path d="M255.4 801.6L263.5 815.7L247.3 815.7Z" fill="#fff" stroke="#d820dc" stroke-width="1.6"/><path d="M257.5 814.0L265.6 828.1L249.4 828.1Z" fill="#fff" stroke="#d820dc" stroke-width="1.6"/><path d="M263.7 806.7L271.8 820.8L255.6 820.8Z" fill="#fff" stroke="#d820dc" stroke-width="1.6"/><path d="M267.9 804.6L276.0 818.7L259.8 818.7Z" fill="#fff" stroke="#d820dc" stroke-width="1.6"/><path d="M275.1 800.5L283.2 814.6L267.0 814.6Z" fill="#fff" stroke="#d820dc" stroke-width="1.6"/><path d="M279.3 780.8L287.4 794.9L271.2 794.9Z" fill="#fff" stroke="#d820dc" stroke-width="1.6"/><path d="M284.5 757.0L292.6 771.1L276.4 771.1Z" fill="#fff" stroke="#d820dc" stroke-width="1.6"/><path d="M287.2 752.8L295.3 766.9L279.1 766.9Z" fill="#fff" stroke="#d820dc" stroke-width="1.6"/><path d="M291.3 729.1L299.4 743.2L283.2 743.2Z" fill="#fff" stroke="#d820dc" stroke-width="1.6"/><path d="M296.7 715.5L304.8 729.6L288.6 729.6Z" fill="#fff" stroke="#d820dc" stroke-width="1.6"/><path d="M300.8 707.8L308.9 721.9L292.7 721.9Z" fill="#fff" stroke="#d820dc" stroke-width="1.6"/><path d="M305.2 700.7L313.3 714.8L297.1 714.8Z" fill="#fff" stroke="#d820dc" stroke-width="1.6"/><path d="M309.5 698.3L317.6 712.4L301.4 712.4Z" fill="#fff" stroke="#d820dc" stroke-width="1.6"/><path d="M313.5 691.2L321.6 705.3L305.4 705.3Z" fill="#fff" stroke="#d820dc" stroke-width="1.6"/><path d="M316.8 680.6L324.9 694.7L308.7 694.7Z" fill="#fff" stroke="#d820dc" stroke-width="1.6"/><path d="M322.1 681.7L330.2 695.8L314.0 695.8Z" fill="#fff" stroke="#d820dc" stroke-width="1.6"/><path d="M325.7 680.6L333.8 694.7L317.6 694.7Z" fill="#fff" stroke="#d820dc" stroke-width="1.6"/><path d="M330.4 702.5L338.5 716.6L322.3 716.6Z" fill="#fff" stroke="#d820dc" stroke-width="1.6"/><path d="M334.0 691.2L342.1 705.3L325.9 705.3Z" fill="#fff" stroke="#d820dc" stroke-width="1.6"/><path d="M338.1 675.2L346.2 689.3L330.0 689.3Z" fill="#fff" stroke="#d820dc" stroke-width="1.6"/><path d="M343.5 675.2L351.6 689.3L335.4 689.3Z" fill="#fff" stroke="#d820dc" stroke-width="1.6"/><path d="M347.8 688.0L355.9 702.1L339.7 702.1Z" fill="#fff" stroke="#d820dc" stroke-width="1.6"/><path d="M350.9 672.4L359.0 686.5L342.8 686.5Z" fill="#fff" stroke="#d820dc" stroke-width="1.6"/><path d="M357.1 680.7L365.2 694.8L349.0 694.8Z" fill="#fff" stroke="#d820dc" stroke-width="1.6"/><path d="M363.4 674.5L371.5 688.6L355.3 688.6Z" fill="#fff" stroke="#d820dc" stroke-width="1.6"/><path d="M368.5 674.5L376.6 688.6L360.4 688.6Z" fill="#fff" stroke="#d820dc" stroke-width="1.6"/><path d="M372.4 659.6L380.5 673.7L364.3 673.7Z" fill="#fff" stroke="#d820dc" stroke-width="1.6"/><path d="M372.7 661.0L380.8 675.1L364.6 675.1Z" fill="#fff" stroke="#d820dc" stroke-width="1.6"/><path d="M377.1 659.1L385.2 673.2L369.0 673.2Z" fill="#fff" stroke="#d820dc" stroke-width="1.6"/><path d="M378.9 658.9L387.0 673.0L370.8 673.0Z" fill="#fff" stroke="#d820dc" stroke-width="1.6"/><path d="M384.2 656.1L392.3 670.2L376.1 670.2Z" fill="#fff" stroke="#d820dc" stroke-width="1.6"/><path d="M385.1 655.8L393.2 669.9L377.0 669.9Z" fill="#fff" stroke="#d820dc" stroke-width="1.6"/><path d="M389.0 640.1L397.1 654.2L380.9 654.2Z" fill="#fff" stroke="#d820dc" stroke-width="1.6"/><path d="M389.3 641.3L397.4 655.4L381.2 655.4Z" fill="#fff" stroke="#d820dc" stroke-width="1.6"/><path d="M393.7 647.2L401.8 661.3L385.6 661.3Z" fill="#fff" stroke="#d820dc" stroke-width="1.6"/><path d="M394.5 648.6L402.6 662.7L386.4 662.7Z" fill="#fff" stroke="#d820dc" stroke-width="1.6"/><path d="M399.7 650.6L407.8 664.7L391.6 664.7Z" fill="#fff" stroke="#d820dc" stroke-width="1.6"/><path d="M403.1 653.6L411.2 667.7L395.0 667.7Z" fill="#fff" stroke="#d820dc" stroke-width="1.6"/><path d="M403.2 654.9L411.3 669.0L395.1 669.0Z" fill="#fff" stroke="#d820dc" stroke-width="1.6"/><path d="M406.9 634.0L415.0 648.1L398.8 648.1Z" fill="#fff" stroke="#d820dc" stroke-width="1.6"/><path d="M409.3 631.8L417.4 645.9L401.2 645.9Z" fill="#fff" stroke="#d820dc" stroke-width="1.6"/><path d="M410.3 631.2L418.4 645.3L402.2 645.3Z" fill="#fff" stroke="#d820dc" stroke-width="1.6"/><path d="M413.8 640.7L421.9 654.8L405.7 654.8Z" fill="#fff" stroke="#d820dc" stroke-width="1.6"/><path d="M416.6 641.2L424.7 655.3L408.5 655.3Z" fill="#fff" stroke="#d820dc" stroke-width="1.6"/><path d="M418.6 638.3L426.7 652.4L410.5 652.4Z" fill="#fff" stroke="#d820dc" stroke-width="1.6"/><path d="M423.9 623.5L432.0 637.6L415.8 637.6Z" fill="#fff" stroke="#d820dc" stroke-width="1.6"/><path d="M423.9 623.6L432.0 637.7L415.8 637.7Z" fill="#fff" stroke="#d820dc" stroke-width="1.6"/><path d="M427.5 628.3L435.6 642.4L419.4 642.4Z" fill="#fff" stroke="#d820dc" stroke-width="1.6"/><path d="M431.6 636.6L439.7 650.7L423.5 650.7Z" fill="#fff" stroke="#d820dc" stroke-width="1.6"/><path d="M432.2 637.0L440.3 651.1L424.1 651.1Z" fill="#fff" stroke="#d820dc" stroke-width="1.6"/><path d="M435.2 624.8L443.3 638.9L427.1 638.9Z" fill="#fff" stroke="#d820dc" stroke-width="1.6"/><path d="M438.1 613.9L446.2 628.0L430.0 628.0Z" fill="#fff" stroke="#d820dc" stroke-width="1.6"/><path d="M441.1 601.6L449.2 615.7L433.0 615.7Z" fill="#fff" stroke="#d820dc" stroke-width="1.6"/><path d="M441.5 601.8L449.6 615.9L433.4 615.9Z" fill="#fff" stroke="#d820dc" stroke-width="1.6"/><path d="M447.0 602.8L455.1 616.9L438.9 616.9Z" fill="#fff" stroke="#d820dc" stroke-width="1.6"/><path d="M448.8 601.8L456.9 615.9L440.7 615.9Z" fill="#fff" stroke="#d820dc" stroke-width="1.6"/><path d="M449.3 601.6L457.4 615.7L441.2 615.7Z" fill="#fff" stroke="#d820dc" stroke-width="1.6"/><path d="M453.9 610.1L462.0 624.2L445.8 624.2Z" fill="#fff" stroke="#d820dc" stroke-width="1.6"/><path d="M457.5 606.6L465.6 620.7L449.4 620.7Z" fill="#fff" stroke="#d820dc" stroke-width="1.6"/><path d="M461.1 596.4L469.2 610.5L453.0 610.5Z" fill="#fff" stroke="#d820dc" stroke-width="1.6"/><path d="M462.2 594.5L470.3 608.6L454.1 608.6Z" fill="#fff" stroke="#d820dc" stroke-width="1.6"/><path d="M466.3 580.9L474.4 595.0L458.2 595.0Z" fill="#fff" stroke="#d820dc" stroke-width="1.6"/><path d="M466.4 582.1L474.5 596.2L458.3 596.2Z" fill="#fff" stroke="#d820dc" stroke-width="1.6"/><path d="M470.7 577.2L478.8 591.3L462.6 591.3Z" fill="#fff" stroke="#d820dc" stroke-width="1.6"/><path d="M471.6 577.9L479.7 592.0L463.5 592.0Z" fill="#fff" stroke="#d820dc" stroke-width="1.6"/><path d="M474.9 579.5L483.0 593.6L466.8 593.6Z" fill="#fff" stroke="#d820dc" stroke-width="1.6"/><path d="M478.1 581.6L486.2 595.7L470.0 595.7Z" fill="#fff" stroke="#d820dc" stroke-width="1.6"/><path d="M479.9 582.1L488.0 596.2L471.8 596.2Z" fill="#fff" stroke="#d820dc" stroke-width="1.6"/><path d="M482.6 580.1L490.7 594.2L474.5 594.2Z" fill="#fff" stroke="#d820dc" stroke-width="1.6"/><path d="M482.9 581.1L491.0 595.2L474.8 595.2Z" fill="#fff" stroke="#d820dc" stroke-width="1.6"/><path d="M487.1 581.0L495.2 595.1L479.0 595.1Z" fill="#fff" stroke="#d820dc" stroke-width="1.6"/><path d="M487.7 579.2L495.8 593.3L479.6 593.3Z" fill="#fff" stroke="#d820dc" stroke-width="1.6"/><path d="M488.5 580.9L496.6 595.0L480.4 595.0Z" fill="#fff" stroke="#d820dc" stroke-width="1.6"/><path d="M492.2 558.6L500.3 572.7L484.1 572.7Z" fill="#fff" stroke="#d820dc" stroke-width="1.6"/><path d="M492.3 559.2L500.4 573.3L484.2 573.3Z" fill="#fff" stroke="#d820dc" stroke-width="1.6"/><path d="M492.5 558.9L500.6 573.0L484.4 573.0Z" fill="#fff" stroke="#d820dc" stroke-width="1.6"/><path d="M497.5 575.8L505.6 589.9L489.4 589.9Z" fill="#fff" stroke="#d820dc" stroke-width="1.6"/><path d="M498.1 574.9L506.2 589.0L490.0 589.0Z" fill="#fff" stroke="#d820dc" stroke-width="1.6"/><path d="M499.3 573.4L507.4 587.5L491.2 587.5Z" fill="#fff" stroke="#d820dc" stroke-width="1.6"/><path d="M499.6 572.0L507.7 586.1L491.5 586.1Z" fill="#fff" stroke="#d820dc" stroke-width="1.6"/><path d="M503.7 555.1L511.8 569.2L495.6 569.2Z" fill="#fff" stroke="#d820dc" stroke-width="1.6"/><path d="M504.1 554.9L512.2 569.0L496.0 569.0Z" fill="#fff" stroke="#d820dc" stroke-width="1.6"/><path d="M504.1 555.1L512.2 569.2L496.0 569.2Z" fill="#fff" stroke="#d820dc" stroke-width="1.6"/><path d="M507.0 570.5L515.1 584.6L498.9 584.6Z" fill="#fff" stroke="#d820dc" stroke-width="1.6"/><path d="M507.9 570.6L516.0 584.7L499.8 584.7Z" fill="#fff" stroke="#d820dc" stroke-width="1.6"/><path d="M510.8 568.6L518.9 582.7L502.7 582.7Z" fill="#fff" stroke="#d820dc" stroke-width="1.6"/><path d="M513.0 569.0L521.1 583.1L504.9 583.1Z" fill="#fff" stroke="#d820dc" stroke-width="1.6"/><path d="M514.1 568.6L522.2 582.7L506.0 582.7Z" fill="#fff" stroke="#d820dc" stroke-width="1.6"/><path d="M518.9 571.2L527.0 585.3L510.8 585.3Z" fill="#fff" stroke="#d820dc" stroke-width="1.6"/><path d="M521.3 577.6L529.4 591.7L513.2 591.7Z" fill="#fff" stroke="#d820dc" stroke-width="1.6"/><path d="M522.4 575.3L530.5 589.4L514.3 589.4Z" fill="#fff" stroke="#d820dc" stroke-width="1.6"/><path d="M525.3 562.8L533.4 576.9L517.2 576.9Z" fill="#fff" stroke="#d820dc" stroke-width="1.6"/><path d="M525.5 562.3L533.6 576.4L517.4 576.4Z" fill="#fff" stroke="#d820dc" stroke-width="1.6"/><path d="M525.6 563.1L533.7 577.2L517.5 577.2Z" fill="#fff" stroke="#d820dc" stroke-width="1.6"/><path d="M528.5 576.4L536.6 590.5L520.4 590.5Z" fill="#fff" stroke="#d820dc" stroke-width="1.6"/><path d="M532.8 574.8L540.9 588.9L524.7 588.9Z" fill="#fff" stroke="#d820dc" stroke-width="1.6"/><path d="M533.0 573.4L541.1 587.5L524.9 587.5Z" fill="#fff" stroke="#d820dc" stroke-width="1.6"/><path d="M533.3 573.6L541.4 587.7L525.2 587.7Z" fill="#fff" stroke="#d820dc" stroke-width="1.6"/><path d="M538.0 557.2L546.1 571.3L529.9 571.3Z" fill="#fff" stroke="#d820dc" stroke-width="1.6"/><path d="M538.8 558.0L546.9 572.1L530.7 572.1Z" fill="#fff" stroke="#d820dc" stroke-width="1.6"/><path d="M539.3 557.6L547.4 571.7L531.2 571.7Z" fill="#fff" stroke="#d820dc" stroke-width="1.6"/><path d="M543.0 560.4L551.1 574.5L534.9 574.5Z" fill="#fff" stroke="#d820dc" stroke-width="1.6"/><path d="M546.6 563.7L554.7 577.8L538.5 577.8Z" fill="#fff" stroke="#d820dc" stroke-width="1.6"/><path d="M550.3 565.7L558.4 579.8L542.2 579.8Z" fill="#fff" stroke="#d820dc" stroke-width="1.6"/><path d="M550.7 565.6L558.8 579.7L542.6 579.7Z" fill="#fff" stroke="#d820dc" stroke-width="1.6"/><path d="M554.2 570.5L562.3 584.6L546.1 584.6Z" fill="#fff" stroke="#d820dc" stroke-width="1.6"/><path d="M554.7 569.6L562.8 583.7L546.6 583.7Z" fill="#fff" stroke="#d820dc" stroke-width="1.6"/><path d="M560.0 581.6L568.1 595.7L551.9 595.7Z" fill="#fff" stroke="#d820dc" stroke-width="1.6"/><path d="M564.0 580.3L572.1 594.4L555.9 594.4Z" fill="#fff" stroke="#d820dc" stroke-width="1.6"/><path d="M564.8 580.1L572.9 594.2L556.7 594.2Z" fill="#fff" stroke="#d820dc" stroke-width="1.6"/><path d="M568.0 579.6L576.1 593.7L559.9 593.7Z" fill="#fff" stroke="#d820dc" stroke-width="1.6"/><path d="M570.6 583.0L578.7 597.1L562.5 597.1Z" fill="#fff" stroke="#d820dc" stroke-width="1.6"/><path d="M572.0 585.6L580.1 599.7L563.9 599.7Z" fill="#fff" stroke="#d820dc" stroke-width="1.6"/><path d="M574.4 584.0L582.5 598.1L566.3 598.1Z" fill="#fff" stroke="#d820dc" stroke-width="1.6"/><path d="M576.3 570.5L584.4 584.6L568.2 584.6Z" fill="#fff" stroke="#d820dc" stroke-width="1.6"/><path d="M576.7 570.9L584.8 585.0L568.6 585.0Z" fill="#fff" stroke="#d820dc" stroke-width="1.6"/><path d="M580.0 570.3L588.1 584.4L571.9 584.4Z" fill="#fff" stroke="#d820dc" stroke-width="1.6"/><path d="M580.2 571.5L588.3 585.6L572.1 585.6Z" fill="#fff" stroke="#d820dc" stroke-width="1.6"/><path d="M584.0 586.3L592.1 600.4L575.9 600.4Z" fill="#fff" stroke="#d820dc" stroke-width="1.6"/><path d="M589.5 588.6L597.6 602.7L581.4 602.7Z" fill="#fff" stroke="#d820dc" stroke-width="1.6"/><path d="M593.7 581.1L601.8 595.2L585.6 595.2Z" fill="#fff" stroke="#d820dc" stroke-width="1.6"/><path d="M594.0 580.3L602.1 594.4L585.9 594.4Z" fill="#fff" stroke="#d820dc" stroke-width="1.6"/></g>
<g><circle cx="168.9" cy="883.8" r="6.95" fill="#fff" stroke="#c80000" stroke-width="2.65"/><circle cx="169.8" cy="893.6" r="6.95" fill="#fff" stroke="#c80000" stroke-width="2.65"/><circle cx="176.9" cy="881.1" r="6.95" fill="#fff" stroke="#c80000" stroke-width="2.65"/><circle cx="180.4" cy="887.3" r="6.95" fill="#fff" stroke="#c80000" stroke-width="2.65"/><circle cx="184.9" cy="889.1" r="6.95" fill="#fff" stroke="#c80000" stroke-width="2.65"/><circle cx="189.3" cy="902.4" r="6.95" fill="#fff" stroke="#c80000" stroke-width="2.65"/><circle cx="192.0" cy="885.6" r="6.95" fill="#fff" stroke="#c80000" stroke-width="2.65"/><circle cx="199.1" cy="876.7" r="6.95" fill="#fff" stroke="#c80000" stroke-width="2.65"/><circle cx="202.7" cy="889.1" r="6.95" fill="#fff" stroke="#c80000" stroke-width="2.65"/><circle cx="206.2" cy="882.9" r="6.95" fill="#fff" stroke="#c80000" stroke-width="2.65"/><circle cx="211.6" cy="888.2" r="6.95" fill="#fff" stroke="#c80000" stroke-width="2.65"/><circle cx="214.2" cy="903.3" r="6.95" fill="#fff" stroke="#c80000" stroke-width="2.65"/><circle cx="219.6" cy="871.3" r="6.95" fill="#fff" stroke="#c80000" stroke-width="2.65"/><circle cx="223.1" cy="892.7" r="6.95" fill="#fff" stroke="#c80000" stroke-width="2.65"/><circle cx="227.6" cy="882.0" r="6.95" fill="#fff" stroke="#c80000" stroke-width="2.65"/><circle cx="232.0" cy="896.2" r="6.95" fill="#fff" stroke="#c80000" stroke-width="2.65"/><circle cx="234.7" cy="886.4" r="6.95" fill="#fff" stroke="#c80000" stroke-width="2.65"/><circle cx="240.0" cy="877.6" r="6.95" fill="#fff" stroke="#c80000" stroke-width="2.65"/><circle cx="243.6" cy="882.0" r="6.95" fill="#fff" stroke="#c80000" stroke-width="2.65"/><circle cx="249.8" cy="904.2" r="6.95" fill="#fff" stroke="#c80000" stroke-width="2.65"/><circle cx="253.3" cy="891.8" r="6.95" fill="#fff" stroke="#c80000" stroke-width="2.65"/><circle cx="256.9" cy="877.6" r="6.95" fill="#fff" stroke="#c80000" stroke-width="2.65"/><circle cx="261.3" cy="873.1" r="6.95" fill="#fff" stroke="#c80000" stroke-width="2.65"/><circle cx="264.9" cy="890.0" r="6.95" fill="#fff" stroke="#c80000" stroke-width="2.65"/><circle cx="268.4" cy="894.4" r="6.95" fill="#fff" stroke="#c80000" stroke-width="2.65"/><circle cx="273.8" cy="898.9" r="6.95" fill="#fff" stroke="#c80000" stroke-width="2.65"/><circle cx="276.2" cy="898.9" r="6.95" fill="#fff" stroke="#c80000" stroke-width="2.65"/><circle cx="277.3" cy="882.9" r="6.95" fill="#fff" stroke="#c80000" stroke-width="2.65"/><circle cx="280.7" cy="882.9" r="6.95" fill="#fff" stroke="#c80000" stroke-width="2.65"/><circle cx="285.1" cy="885.6" r="6.95" fill="#fff" stroke="#c80000" stroke-width="2.65"/><circle cx="290.4" cy="879.3" r="6.95" fill="#fff" stroke="#c80000" stroke-width="2.65"/><circle cx="294.9" cy="891.8" r="6.95" fill="#fff" stroke="#c80000" stroke-width="2.65"/><circle cx="299.3" cy="887.3" r="6.95" fill="#fff" stroke="#c80000" stroke-width="2.65"/><circle cx="302.9" cy="882.0" r="6.95" fill="#fff" stroke="#c80000" stroke-width="2.65"/><circle cx="308.2" cy="875.8" r="6.95" fill="#fff" stroke="#c80000" stroke-width="2.65"/><circle cx="312.7" cy="890.0" r="6.95" fill="#fff" stroke="#c80000" stroke-width="2.65"/><circle cx="316.2" cy="882.9" r="6.95" fill="#fff" stroke="#c80000" stroke-width="2.65"/><circle cx="321.6" cy="868.7" r="6.95" fill="#fff" stroke="#c80000" stroke-width="2.65"/><circle cx="324.2" cy="878.4" r="6.95" fill="#fff" stroke="#c80000" stroke-width="2.65"/><circle cx="327.8" cy="881.1" r="6.95" fill="#fff" stroke="#c80000" stroke-width="2.65"/><circle cx="332.2" cy="885.6" r="6.95" fill="#fff" stroke="#c80000" stroke-width="2.65"/><circle cx="337.6" cy="876.7" r="6.95" fill="#fff" stroke="#c80000" stroke-width="2.65"/><circle cx="341.1" cy="882.9" r="6.95" fill="#fff" stroke="#c80000" stroke-width="2.65"/><circle cx="346.4" cy="878.4" r="6.95" fill="#fff" stroke="#c80000" stroke-width="2.65"/><circle cx="350.9" cy="886.4" r="6.95" fill="#fff" stroke="#c80000" stroke-width="2.65"/><circle cx="354.4" cy="868.7" r="6.95" fill="#fff" stroke="#c80000" stroke-width="2.65"/><circle cx="358.0" cy="875.8" r="6.95" fill="#fff" stroke="#c80000" stroke-width="2.65"/><circle cx="362.4" cy="874.9" r="6.95" fill="#fff" stroke="#c80000" stroke-width="2.65"/><circle cx="366.9" cy="874.0" r="6.95" fill="#fff" stroke="#c80000" stroke-width="2.65"/><circle cx="371.3" cy="874.9" r="6.95" fill="#fff" stroke="#c80000" stroke-width="2.65"/><circle cx="376.7" cy="874.0" r="6.95" fill="#fff" stroke="#c80000" stroke-width="2.65"/><circle cx="380.2" cy="886.4" r="6.95" fill="#fff" stroke="#c80000" stroke-width="2.65"/><circle cx="384.4" cy="870.2" r="6.95" fill="#fff" stroke="#c80000" stroke-width="2.65"/><circle cx="388.9" cy="875.6" r="6.95" fill="#fff" stroke="#c80000" stroke-width="2.65"/><circle cx="394.2" cy="892.4" r="6.95" fill="#fff" stroke="#c80000" stroke-width="2.65"/><circle cx="397.8" cy="863.1" r="6.95" fill="#fff" stroke="#c80000" stroke-width="2.65"/><circle cx="402.2" cy="877.3" r="6.95" fill="#fff" stroke="#c80000" stroke-width="2.65"/><circle cx="405.8" cy="868.4" r="6.95" fill="#fff" stroke="#c80000" stroke-width="2.65"/><circle cx="410.2" cy="878.2" r="6.95" fill="#fff" stroke="#c80000" stroke-width="2.65"/><circle cx="414.7" cy="864.0" r="6.95" fill="#fff" stroke="#c80000" stroke-width="2.65"/><circle cx="420.0" cy="870.2" r="6.95" fill="#fff" stroke="#c80000" stroke-width="2.65"/><circle cx="423.6" cy="852.4" r="6.95" fill="#fff" stroke="#c80000" stroke-width="2.65"/><circle cx="428.0" cy="879.1" r="6.95" fill="#fff" stroke="#c80000" stroke-width="2.65"/><circle cx="431.6" cy="864.9" r="6.95" fill="#fff" stroke="#c80000" stroke-width="2.65"/><circle cx="436.9" cy="885.3" r="6.95" fill="#fff" stroke="#c80000" stroke-width="2.65"/><circle cx="441.3" cy="896.9" r="6.95" fill="#fff" stroke="#c80000" stroke-width="2.65"/><circle cx="445.8" cy="901.3" r="6.95" fill="#fff" stroke="#c80000" stroke-width="2.65"/><circle cx="448.4" cy="891.6" r="6.95" fill="#fff" stroke="#c80000" stroke-width="2.65"/><circle cx="452.9" cy="877.3" r="6.95" fill="#fff" stroke="#c80000" stroke-width="2.65"/><circle cx="456.4" cy="892.4" r="6.95" fill="#fff" stroke="#c80000" stroke-width="2.65"/><circle cx="460.9" cy="862.2" r="6.95" fill="#fff" stroke="#c80000" stroke-width="2.65"/><circle cx="466.2" cy="875.6" r="6.95" fill="#fff" stroke="#c80000" stroke-width="2.65"/><circle cx="469.8" cy="877.3" r="6.95" fill="#fff" stroke="#c80000" stroke-width="2.65"/><circle cx="473.3" cy="885.3" r="6.95" fill="#fff" stroke="#c80000" stroke-width="2.65"/><circle cx="477.8" cy="871.1" r="6.95" fill="#fff" stroke="#c80000" stroke-width="2.65"/><circle cx="481.3" cy="881.8" r="6.95" fill="#fff" stroke="#c80000" stroke-width="2.65"/><circle cx="485.8" cy="877.3" r="6.95" fill="#fff" stroke="#c80000" stroke-width="2.65"/><circle cx="489.3" cy="874.7" r="6.95" fill="#fff" stroke="#c80000" stroke-width="2.65"/><circle cx="493.8" cy="889.8" r="6.95" fill="#fff" stroke="#c80000" stroke-width="2.65"/><circle cx="496.4" cy="873.8" r="6.95" fill="#fff" stroke="#c80000" stroke-width="2.65"/><circle cx="498.0" cy="872.9" r="6.95" fill="#fff" stroke="#c80000" stroke-width="2.65"/><circle cx="502.4" cy="875.6" r="6.95" fill="#fff" stroke="#c80000" stroke-width="2.65"/><circle cx="506.9" cy="878.2" r="6.95" fill="#fff" stroke="#c80000" stroke-width="2.65"/><circle cx="511.3" cy="882.7" r="6.95" fill="#fff" stroke="#c80000" stroke-width="2.65"/><circle cx="516.7" cy="891.6" r="6.95" fill="#fff" stroke="#c80000" stroke-width="2.65"/><circle cx="522.0" cy="866.7" r="6.95" fill="#fff" stroke="#c80000" stroke-width="2.65"/><circle cx="525.6" cy="862.2" r="6.95" fill="#fff" stroke="#c80000" stroke-width="2.65"/><circle cx="530.0" cy="872.0" r="6.95" fill="#fff" stroke="#c80000" stroke-width="2.65"/><circle cx="533.6" cy="887.1" r="6.95" fill="#fff" stroke="#c80000" stroke-width="2.65"/><circle cx="538.0" cy="861.3" r="6.95" fill="#fff" stroke="#c80000" stroke-width="2.65"/><circle cx="543.3" cy="894.2" r="6.95" fill="#fff" stroke="#c80000" stroke-width="2.65"/><circle cx="546.9" cy="857.8" r="6.95" fill="#fff" stroke="#c80000" stroke-width="2.65"/><circle cx="549.6" cy="870.2" r="6.95" fill="#fff" stroke="#c80000" stroke-width="2.65"/><circle cx="554.9" cy="868.4" r="6.95" fill="#fff" stroke="#c80000" stroke-width="2.65"/><circle cx="559.3" cy="880.0" r="6.95" fill="#fff" stroke="#c80000" stroke-width="2.65"/><circle cx="563.8" cy="880.9" r="6.95" fill="#fff" stroke="#c80000" stroke-width="2.65"/><circle cx="568.2" cy="866.7" r="6.95" fill="#fff" stroke="#c80000" stroke-width="2.65"/><circle cx="572.7" cy="858.7" r="6.95" fill="#fff" stroke="#c80000" stroke-width="2.65"/><circle cx="575.3" cy="868.4" r="6.95" fill="#fff" stroke="#c80000" stroke-width="2.65"/><circle cx="580.7" cy="884.4" r="6.95" fill="#fff" stroke="#c80000" stroke-width="2.65"/><circle cx="584.2" cy="873.8" r="6.95" fill="#fff" stroke="#c80000" stroke-width="2.65"/><circle cx="589.6" cy="877.3" r="6.95" fill="#fff" stroke="#c80000" stroke-width="2.65"/><circle cx="594.0" cy="868.4" r="6.95" fill="#fff" stroke="#c80000" stroke-width="2.65"/></g>
<path d="M172.3 850.4 L188.4 832.7 L188.4 846.3 L230.4 846.3 L230.4 854.4 L188.4 854.4 L188.4 868 Z" fill="none" stroke="#b8483a" stroke-width="1.1"/>
<path d="M589.1 629.5 L572.5 612.5 L572.5 625 L474.8 625 L474.8 634.1 L572.5 634.1 L572.5 646.6 Z" fill="none" stroke="#c888e8" stroke-width="1.2"/>
<path d="M427.9 720.5L441.1 742.7L414.7 742.7Z" fill="#fff" stroke="#d820dc" stroke-width="1.6"/>
<circle cx="427.6" cy="781.5" r="10.2" fill="none" stroke="#c80000" stroke-width="2.6"/>
<g><text x="2.62" y="34.70" font-size="45.06" font-weight="bold" fill="#000" textLength="31.22" lengthAdjust="spacingAndGlyphs">A</text><text x="2.97" y="506.90" font-size="44.91" font-weight="bold" fill="#000" textLength="30.55" lengthAdjust="spacingAndGlyphs">B</text><text x="82.01" y="84.96" font-size="34.32" font-weight="normal" fill="#000" textLength="38.02" lengthAdjust="spacingAndGlyphs">10</text><rect x="83.60" y="80.20" width="7.01" height="6.76" fill="#fff"/><rect x="93.63" y="80.20" width="6.74" height="6.76" fill="#fff"/><text x="119.82" y="60.90" font-size="24.56" font-weight="normal" fill="#000" textLength="15.52" lengthAdjust="spacingAndGlyphs">1</text><rect x="121.11" y="56.86" width="5.72" height="6.04" fill="#fff"/><rect x="129.30" y="56.86" width="5.51" height="6.04" fill="#fff"/><text x="73.43" y="187.87" font-size="33.62" font-weight="normal" fill="#000" textLength="37.80" lengthAdjust="spacingAndGlyphs">10</text><rect x="75.01" y="183.16" width="6.97" height="6.71" fill="#fff"/><rect x="84.98" y="183.16" width="6.70" height="6.71" fill="#fff"/><text x="111.33" y="164.40" font-size="24.86" font-weight="normal" fill="#000" textLength="23.49" lengthAdjust="spacingAndGlyphs">-1</text><rect x="121.35" y="160.34" width="5.42" height="6.06" fill="#fff"/><rect x="129.10" y="160.34" width="5.21" height="6.06" fill="#fff"/><text x="73.43" y="291.37" font-size="33.62" font-weight="normal" fill="#000" textLength="37.80" lengthAdjust="spacingAndGlyphs">10</text><rect x="75.01" y="286.66" width="6.97" height="6.71" fill="#fff"/><rect x="84.98" y="286.66" width="6.70" height="6.71" fill="#fff"/><text x="110.88" y="267.06" font-size="24.15" font-weight="normal" fill="#000" textLength="22.43" lengthAdjust="spacingAndGlyphs">-3</text><text x="73.43" y="392.87" font-size="33.62" font-weight="normal" fill="#000" textLength="37.80" lengthAdjust="spacingAndGlyphs">10</text><rect x="75.01" y="388.16" width="6.97" height="6.71" fill="#fff"/><rect x="84.98" y="388.16" width="6.70" height="6.71" fill="#fff"/><text x="110.88" y="368.56" font-size="24.51" font-weight="normal" fill="#000" textLength="22.37" lengthAdjust="spacingAndGlyphs">-5</text><text x="203.17" y="438.75" font-size="35.59" font-weight="normal" fill="#000" textLength="66.05" lengthAdjust="spacingAndGlyphs">0.90</text><text x="338.84" y="438.46" font-size="35.17" font-weight="normal" fill="#000" textLength="65.99" lengthAdjust="spacingAndGlyphs">1.00</text><rect x="340.41" y="433.63" width="6.95" height="6.83" fill="#fff"/><rect x="350.36" y="433.63" width="6.69" height="6.83" fill="#fff"/><text x="474.43" y="438.26" font-size="34.89" font-weight="normal" fill="#000" textLength="66.20" lengthAdjust="spacingAndGlyphs">1.10</text><rect x="476.01" y="433.45" width="6.98" height="6.81" fill="#fff"/><rect x="485.99" y="433.45" width="6.71" height="6.81" fill="#fff"/><rect x="504.37" y="433.45" width="6.98" height="6.81" fill="#fff"/><rect x="514.35" y="433.45" width="6.71" height="6.81" fill="#fff"/><text x="275.34" y="486.50" font-size="44.48" font-weight="normal" fill="#000" textLength="206.81" lengthAdjust="spacingAndGlyphs">H or K (r.l.u.)</text><text transform="translate(48.00 340.06) rotate(-90)" x="0" y="0" font-size="43.90" fill="#000" textLength="255.05" lengthAdjust="spacingAndGlyphs">Intensity (a. u.)</text><text x="260.27" y="82.40" font-size="39.39" font-weight="normal" fill="#000" textLength="68.86" lengthAdjust="spacingAndGlyphs">(105)</text><rect x="271.46" y="77.26" width="6.05" height="7.14" fill="#fff"/><rect x="280.12" y="77.26" width="5.82" height="7.14" fill="#fff"/><text x="260.27" y="132.10" font-size="39.39" font-weight="normal" fill="#000" textLength="68.86" lengthAdjust="spacingAndGlyphs">(015)</text><rect x="287.87" y="126.96" width="6.05" height="7.14" fill="#fff"/><rect x="296.52" y="126.96" width="5.82" height="7.14" fill="#fff"/><text x="436.06" y="202.10" font-size="22.38" font-weight="normal" fill="#000" textLength="143.76" lengthAdjust="spacingAndGlyphs">Temperature (K)</text><text x="470.39" y="178.83" font-size="17.66" font-weight="normal" fill="#000" textLength="29.60" lengthAdjust="spacingAndGlyphs">100</text><rect x="471.22" y="175.31" width="3.64" height="5.52" fill="#fff"/><rect x="476.42" y="175.31" width="3.50" height="5.52" fill="#fff"/><text x="545.38" y="178.83" font-size="17.66" font-weight="normal" fill="#000" textLength="30.43" lengthAdjust="spacingAndGlyphs">200</text><text x="399.11" y="160.62" font-size="18.08" font-weight="normal" fill="#000" textLength="9.89" lengthAdjust="spacingAndGlyphs">0</text><text x="401.05" y="128.80" font-size="18.60" font-weight="normal" fill="#000" textLength="11.87" lengthAdjust="spacingAndGlyphs">1</text><rect x="402.04" y="125.21" width="4.38" height="5.59" fill="#fff"/><rect x="408.30" y="125.21" width="4.21" height="5.59" fill="#fff"/><text x="398.86" y="96.80" font-size="18.33" font-weight="normal" fill="#000" textLength="10.38" lengthAdjust="spacingAndGlyphs">2</text><text x="399.12" y="64.62" font-size="18.08" font-weight="normal" fill="#000" textLength="9.97" lengthAdjust="spacingAndGlyphs">3</text><text x="537.45" y="93.80" font-size="20.79" font-weight="normal" fill="#000" textLength="44.20" lengthAdjust="spacingAndGlyphs">(1 0 5)</text><rect x="543.25" y="90.05" width="3.14" height="5.75" fill="#fff"/><rect x="547.74" y="90.05" width="3.02" height="5.75" fill="#fff"/><text x="509.61" y="144.40" font-size="18.60" font-weight="normal" fill="#000" textLength="10.70" lengthAdjust="spacingAndGlyphs">T</text><text x="519.90" y="144.40" font-size="10.32" font-weight="normal" fill="#000" textLength="20.98" lengthAdjust="spacingAndGlyphs">MIT</text><text x="38.48" y="549.07" font-size="33.62" font-weight="normal" fill="#000" textLength="96.48" lengthAdjust="spacingAndGlyphs">3.0x10</text><rect x="100.70" y="544.36" width="6.59" height="6.71" fill="#fff"/><rect x="110.13" y="544.36" width="6.34" height="6.71" fill="#fff"/><text x="134.27" y="525.68" font-size="22.60" font-weight="normal" fill="#000" textLength="20.65" lengthAdjust="spacingAndGlyphs">-3</text><text x="109.96" y="636.18" font-size="33.05" font-weight="normal" fill="#000" textLength="45.31" lengthAdjust="spacingAndGlyphs">2.5</text><text x="109.96" y="730.78" font-size="33.05" font-weight="normal" fill="#000" textLength="45.21" lengthAdjust="spacingAndGlyphs">2.0</text><text x="110.40" y="825.37" font-size="33.54" font-weight="normal" fill="#000" textLength="44.86" lengthAdjust="spacingAndGlyphs">1.5</text><rect x="111.89" y="820.67" width="6.62" height="6.71" fill="#fff"/><rect x="121.36" y="820.67" width="6.37" height="6.71" fill="#fff"/><text x="110.40" y="919.98" font-size="33.05" font-weight="normal" fill="#000" textLength="44.75" lengthAdjust="spacingAndGlyphs">1.0</text><rect x="111.90" y="915.31" width="6.60" height="6.67" fill="#fff"/><rect x="121.34" y="915.31" width="6.35" height="6.67" fill="#fff"/><text x="609.73" y="939.37" font-size="33.62" font-weight="normal" fill="#000" textLength="63.03" lengthAdjust="spacingAndGlyphs">0.10</text><rect x="638.25" y="934.66" width="6.64" height="6.71" fill="#fff"/><rect x="647.75" y="934.66" width="6.39" height="6.71" fill="#fff"/><text x="609.73" y="840.07" font-size="33.62" font-weight="normal" fill="#000" textLength="63.41" lengthAdjust="spacingAndGlyphs">0.12</text><rect x="638.41" y="835.36" width="6.68" height="6.71" fill="#fff"/><rect x="647.97" y="835.36" width="6.43" height="6.71" fill="#fff"/><text x="609.74" y="740.77" font-size="33.62" font-weight="normal" fill="#000" textLength="62.70" lengthAdjust="spacingAndGlyphs">0.14</text><rect x="638.10" y="736.06" width="6.61" height="6.71" fill="#fff"/><rect x="647.56" y="736.06" width="6.36" height="6.71" fill="#fff"/><text x="609.73" y="641.47" font-size="33.62" font-weight="normal" fill="#000" textLength="63.20" lengthAdjust="spacingAndGlyphs">0.16</text><rect x="638.32" y="636.76" width="6.66" height="6.71" fill="#fff"/><rect x="647.85" y="636.76" width="6.41" height="6.71" fill="#fff"/><text x="609.73" y="542.17" font-size="33.62" font-weight="normal" fill="#000" textLength="63.18" lengthAdjust="spacingAndGlyphs">0.18</text><rect x="638.31" y="537.46" width="6.66" height="6.71" fill="#fff"/><rect x="647.84" y="537.46" width="6.40" height="6.71" fill="#fff"/><text x="222.74" y="973.78" font-size="32.49" font-weight="normal" fill="#000" textLength="63.14" lengthAdjust="spacingAndGlyphs">8.33</text><text x="307.85" y="973.78" font-size="32.49" font-weight="normal" fill="#000" textLength="62.64" lengthAdjust="spacingAndGlyphs">8.34</text><text x="392.94" y="973.78" font-size="32.49" font-weight="normal" fill="#000" textLength="63.07" lengthAdjust="spacingAndGlyphs">8.35</text><text x="478.04" y="973.78" font-size="32.49" font-weight="normal" fill="#000" textLength="63.14" lengthAdjust="spacingAndGlyphs">8.36</text><text x="563.04" y="973.78" font-size="32.49" font-weight="normal" fill="#000" textLength="63.35" lengthAdjust="spacingAndGlyphs">8.37</text><text x="279.18" y="1019.10" font-size="42.15" font-weight="normal" fill="#000" textLength="207.93" lengthAdjust="spacingAndGlyphs">Energy (keV)</text><text transform="translate(58.40 933.93) rotate(-90)" x="0" y="0" font-size="41.57" fill="#000" textLength="376.10" lengthAdjust="spacingAndGlyphs">Intensity (counts/mon)</text><text x="174.00" y="559.00" font-size="30.96" font-weight="normal" fill="#000" textLength="144.06" lengthAdjust="spacingAndGlyphs">Ni &#160;K-edge</text><text x="201.32" y="595.80" font-size="31.11" font-weight="normal" fill="#000" textLength="90.22" lengthAdjust="spacingAndGlyphs">T=20K</text><text x="477.06" y="745.30" font-size="35.23" font-weight="normal" fill="#000" textLength="76.59" lengthAdjust="spacingAndGlyphs">(2 2 0)</text><text x="477.06" y="792.00" font-size="36.77" font-weight="normal" fill="#000" textLength="76.59" lengthAdjust="spacingAndGlyphs">(1 0 5)</text><rect x="487.11" y="787.05" width="5.43" height="6.95" fill="#fff"/><rect x="494.89" y="787.05" width="5.23" height="6.95" fill="#fff"/></g>
<rect x="411.5" y="23" width="191.5" height="137.2" fill="none" stroke="#8c8c8c" stroke-width="1.3"/><line x1="417.05" y1="160.20" x2="417.05" y2="156.70" stroke="#8c8c8c" stroke-width="1"/><line x1="417.05" y1="23.00" x2="417.05" y2="26.50" stroke="#8c8c8c" stroke-width="1"/><line x1="424.60" y1="160.20" x2="424.60" y2="156.70" stroke="#8c8c8c" stroke-width="1"/><line x1="424.60" y1="23.00" x2="424.60" y2="26.50" stroke="#8c8c8c" stroke-width="1"/><line x1="432.15" y1="160.20" x2="432.15" y2="156.70" stroke="#8c8c8c" stroke-width="1"/><line x1="432.15" y1="23.00" x2="432.15" y2="26.50" stroke="#8c8c8c" stroke-width="1"/><line x1="439.70" y1="160.20" x2="439.70" y2="156.70" stroke="#8c8c8c" stroke-width="1"/><line x1="439.70" y1="23.00" x2="439.70" y2="26.50" stroke="#8c8c8c" stroke-width="1"/><line x1="447.25" y1="160.20" x2="447.25" y2="156.70" stroke="#8c8c8c" stroke-width="1"/><line x1="447.25" y1="23.00" x2="447.25" y2="26.50" stroke="#8c8c8c" stroke-width="1"/><line x1="454.80" y1="160.20" x2="454.80" y2="156.70" stroke="#8c8c8c" stroke-width="1"/><line x1="454.80" y1="23.00" x2="454.80" y2="26.50" stroke="#8c8c8c" stroke-width="1"/><line x1="462.35" y1="160.20" x2="462.35" y2="156.70" stroke="#8c8c8c" stroke-width="1"/><line x1="462.35" y1="23.00" x2="462.35" y2="26.50" stroke="#8c8c8c" stroke-width="1"/><line x1="469.90" y1="160.20" x2="469.90" y2="156.70" stroke="#8c8c8c" stroke-width="1"/><line x1="469.90" y1="23.00" x2="469.90" y2="26.50" stroke="#8c8c8c" stroke-width="1"/><line x1="477.45" y1="160.20" x2="477.45" y2="156.70" stroke="#8c8c8c" stroke-width="1"/><line x1="477.45" y1="23.00" x2="477.45" y2="26.50" stroke="#8c8c8c" stroke-width="1"/><line x1="485.00" y1="160.20" x2="485.00" y2="155.20" stroke="#8c8c8c" stroke-width="1"/><line x1="485.00" y1="23.00" x2="485.00" y2="28.00" stroke="#8c8c8c" stroke-width="1"/><line x1="492.55" y1="160.20" x2="492.55" y2="156.70" stroke="#8c8c8c" stroke-width="1"/><line x1="492.55" y1="23.00" x2="492.55" y2="26.50" stroke="#8c8c8c" stroke-width="1"/><line x1="500.10" y1="160.20" x2="500.10" y2="156.70" stroke="#8c8c8c" stroke-width="1"/><line x1="500.10" y1="23.00" x2="500.10" y2="26.50" stroke="#8c8c8c" stroke-width="1"/><line x1="507.65" y1="160.20" x2="507.65" y2="156.70" stroke="#8c8c8c" stroke-width="1"/><line x1="507.65" y1="23.00" x2="507.65" y2="26.50" stroke="#8c8c8c" stroke-width="1"/><line x1="515.20" y1="160.20" x2="515.20" y2="156.70" stroke="#8c8c8c" stroke-width="1"/><line x1="515.20" y1="23.00" x2="515.20" y2="26.50" stroke="#8c8c8c" stroke-width="1"/><line x1="522.75" y1="160.20" x2="522.75" y2="156.70" stroke="#8c8c8c" stroke-width="1"/><line x1="522.75" y1="23.00" x2="522.75" y2="26.50" stroke="#8c8c8c" stroke-width="1"/><line x1="530.30" y1="160.20" x2="530.30" y2="156.70" stroke="#8c8c8c" stroke-width="1"/><line x1="530.30" y1="23.00" x2="530.30" y2="26.50" stroke="#8c8c8c" stroke-width="1"/><line x1="537.85" y1="160.20" x2="537.85" y2="156.70" stroke="#8c8c8c" stroke-width="1"/><line x1="537.85" y1="23.00" x2="537.85" y2="26.50" stroke="#8c8c8c" stroke-width="1"/><line x1="545.40" y1="160.20" x2="545.40" y2="156.70" stroke="#8c8c8c" stroke-width="1"/><line x1="545.40" y1="23.00" x2="545.40" y2="26.50" stroke="#8c8c8c" stroke-width="1"/><line x1="552.95" y1="160.20" x2="552.95" y2="156.70" stroke="#8c8c8c" stroke-width="1"/><line x1="552.95" y1="23.00" x2="552.95" y2="26.50" stroke="#8c8c8c" stroke-width="1"/><line x1="560.50" y1="160.20" x2="560.50" y2="155.20" stroke="#8c8c8c" stroke-width="1"/><line x1="560.50" y1="23.00" x2="560.50" y2="28.00" stroke="#8c8c8c" stroke-width="1"/><line x1="568.05" y1="160.20" x2="568.05" y2="156.70" stroke="#8c8c8c" stroke-width="1"/><line x1="568.05" y1="23.00" x2="568.05" y2="26.50" stroke="#8c8c8c" stroke-width="1"/><line x1="575.60" y1="160.20" x2="575.60" y2="156.70" stroke="#8c8c8c" stroke-width="1"/><line x1="575.60" y1="23.00" x2="575.60" y2="26.50" stroke="#8c8c8c" stroke-width="1"/><line x1="583.15" y1="160.20" x2="583.15" y2="156.70" stroke="#8c8c8c" stroke-width="1"/><line x1="583.15" y1="23.00" x2="583.15" y2="26.50" stroke="#8c8c8c" stroke-width="1"/><line x1="590.70" y1="160.20" x2="590.70" y2="156.70" stroke="#8c8c8c" stroke-width="1"/><line x1="590.70" y1="23.00" x2="590.70" y2="26.50" stroke="#8c8c8c" stroke-width="1"/><line x1="598.25" y1="160.20" x2="598.25" y2="156.70" stroke="#8c8c8c" stroke-width="1"/><line x1="598.25" y1="23.00" x2="598.25" y2="26.50" stroke="#8c8c8c" stroke-width="1"/><line x1="411.50" y1="154.80" x2="416.00" y2="154.80" stroke="#8c8c8c" stroke-width="1"/><line x1="603.00" y1="154.80" x2="599.00" y2="154.80" stroke="#8c8c8c" stroke-width="1"/><line x1="411.50" y1="122.80" x2="416.00" y2="122.80" stroke="#8c8c8c" stroke-width="1"/><line x1="603.00" y1="122.80" x2="599.00" y2="122.80" stroke="#8c8c8c" stroke-width="1"/><line x1="411.50" y1="90.80" x2="416.00" y2="90.80" stroke="#8c8c8c" stroke-width="1"/><line x1="603.00" y1="90.80" x2="599.00" y2="90.80" stroke="#8c8c8c" stroke-width="1"/><line x1="411.50" y1="58.80" x2="416.00" y2="58.80" stroke="#8c8c8c" stroke-width="1"/><line x1="603.00" y1="58.80" x2="599.00" y2="58.80" stroke="#8c8c8c" stroke-width="1"/>
<rect x="147" y="20.5" width="461" height="379.6" fill="none" stroke="#111" stroke-width="1.5"/><line x1="235.60" y1="400.10" x2="235.60" y2="389.10" stroke="#111" stroke-width="1.5"/><line x1="235.60" y1="20.50" x2="235.60" y2="31.50" stroke="#111" stroke-width="1.5"/><line x1="371.40" y1="400.10" x2="371.40" y2="389.10" stroke="#111" stroke-width="1.5"/><line x1="371.40" y1="20.50" x2="371.40" y2="31.50" stroke="#111" stroke-width="1.5"/><line x1="507.00" y1="400.10" x2="507.00" y2="389.10" stroke="#111" stroke-width="1.5"/><line x1="507.00" y1="20.50" x2="507.00" y2="31.50" stroke="#111" stroke-width="1.5"/><line x1="169.30" y1="400.10" x2="169.30" y2="394.10" stroke="#111" stroke-width="1.5"/><line x1="169.30" y1="20.50" x2="169.30" y2="26.50" stroke="#111" stroke-width="1.5"/><line x1="303.40" y1="400.10" x2="303.40" y2="394.10" stroke="#111" stroke-width="1.5"/><line x1="303.40" y1="20.50" x2="303.40" y2="26.50" stroke="#111" stroke-width="1.5"/><line x1="439.00" y1="400.10" x2="439.00" y2="394.10" stroke="#111" stroke-width="1.5"/><line x1="439.00" y1="20.50" x2="439.00" y2="26.50" stroke="#111" stroke-width="1.5"/><line x1="574.50" y1="400.10" x2="574.50" y2="394.10" stroke="#111" stroke-width="1.5"/><line x1="574.50" y1="20.50" x2="574.50" y2="26.50" stroke="#111" stroke-width="1.5"/><line x1="147.00" y1="67.00" x2="158.00" y2="67.00" stroke="#111" stroke-width="1.5"/><line x1="608.00" y1="67.00" x2="597.00" y2="67.00" stroke="#111" stroke-width="1.5"/><line x1="147.00" y1="118.33" x2="158.00" y2="118.33" stroke="#111" stroke-width="1.5"/><line x1="608.00" y1="118.33" x2="597.00" y2="118.33" stroke="#111" stroke-width="1.5"/><line x1="147.00" y1="169.66" x2="158.00" y2="169.66" stroke="#111" stroke-width="1.5"/><line x1="608.00" y1="169.66" x2="597.00" y2="169.66" stroke="#111" stroke-width="1.5"/><line x1="147.00" y1="220.99" x2="158.00" y2="220.99" stroke="#111" stroke-width="1.5"/><line x1="608.00" y1="220.99" x2="597.00" y2="220.99" stroke="#111" stroke-width="1.5"/><line x1="147.00" y1="272.32" x2="158.00" y2="272.32" stroke="#111" stroke-width="1.5"/><line x1="608.00" y1="272.32" x2="597.00" y2="272.32" stroke="#111" stroke-width="1.5"/><line x1="147.00" y1="323.65" x2="158.00" y2="323.65" stroke="#111" stroke-width="1.5"/><line x1="608.00" y1="323.65" x2="597.00" y2="323.65" stroke="#111" stroke-width="1.5"/><line x1="147.00" y1="374.98" x2="158.00" y2="374.98" stroke="#111" stroke-width="1.5"/><line x1="608.00" y1="374.98" x2="597.00" y2="374.98" stroke="#111" stroke-width="1.5"/>
<line x1="160.00" y1="520.70" x2="603.00" y2="520.70" stroke="#111" stroke-width="1.4"/><line x1="159.20" y1="937.40" x2="603.80" y2="937.40" stroke="#111" stroke-width="1.4"/><line x1="160.00" y1="521.70" x2="160.00" y2="937.40" stroke="#a83a42" stroke-width="1.6"/><line x1="603.00" y1="520.70" x2="603.00" y2="937.40" stroke="#f0a0dc" stroke-width="1.7"/><line x1="253.70" y1="937.40" x2="253.70" y2="926.90" stroke="#111" stroke-width="1.4"/><line x1="253.70" y1="520.70" x2="253.70" y2="530.70" stroke="#111" stroke-width="1.4"/><line x1="338.80" y1="937.40" x2="338.80" y2="926.90" stroke="#111" stroke-width="1.4"/><line x1="338.80" y1="520.70" x2="338.80" y2="530.70" stroke="#111" stroke-width="1.4"/><line x1="423.90" y1="937.40" x2="423.90" y2="926.90" stroke="#111" stroke-width="1.4"/><line x1="423.90" y1="520.70" x2="423.90" y2="530.70" stroke="#111" stroke-width="1.4"/><line x1="509.00" y1="937.40" x2="509.00" y2="926.90" stroke="#111" stroke-width="1.4"/><line x1="509.00" y1="520.70" x2="509.00" y2="530.70" stroke="#111" stroke-width="1.4"/><line x1="594.00" y1="937.40" x2="594.00" y2="926.90" stroke="#111" stroke-width="1.4"/><line x1="594.00" y1="520.70" x2="594.00" y2="530.70" stroke="#111" stroke-width="1.4"/><line x1="160.00" y1="909.10" x2="171.00" y2="909.10" stroke="#c82020" stroke-width="1.3"/><line x1="160.00" y1="813.70" x2="171.00" y2="813.70" stroke="#c82020" stroke-width="1.3"/><line x1="160.00" y1="720.20" x2="171.00" y2="720.20" stroke="#c82020" stroke-width="1.3"/><line x1="160.00" y1="624.90" x2="171.00" y2="624.90" stroke="#c82020" stroke-width="1.3"/><line x1="160.00" y1="531.40" x2="171.00" y2="531.40" stroke="#c82020" stroke-width="1.3"/><line x1="603.00" y1="928.00" x2="593.50" y2="928.00" stroke="#ecbc50" stroke-width="1.4"/><line x1="603.00" y1="828.70" x2="593.50" y2="828.70" stroke="#ecbc50" stroke-width="1.4"/><line x1="603.00" y1="729.40" x2="593.50" y2="729.40" stroke="#ecbc50" stroke-width="1.4"/><line x1="603.00" y1="630.10" x2="593.50" y2="630.10" stroke="#ecbc50" stroke-width="1.4"/><line x1="603.00" y1="530.80" x2="593.50" y2="530.80" stroke="#ecbc50" stroke-width="1.4"/>
</svg></body></html>
